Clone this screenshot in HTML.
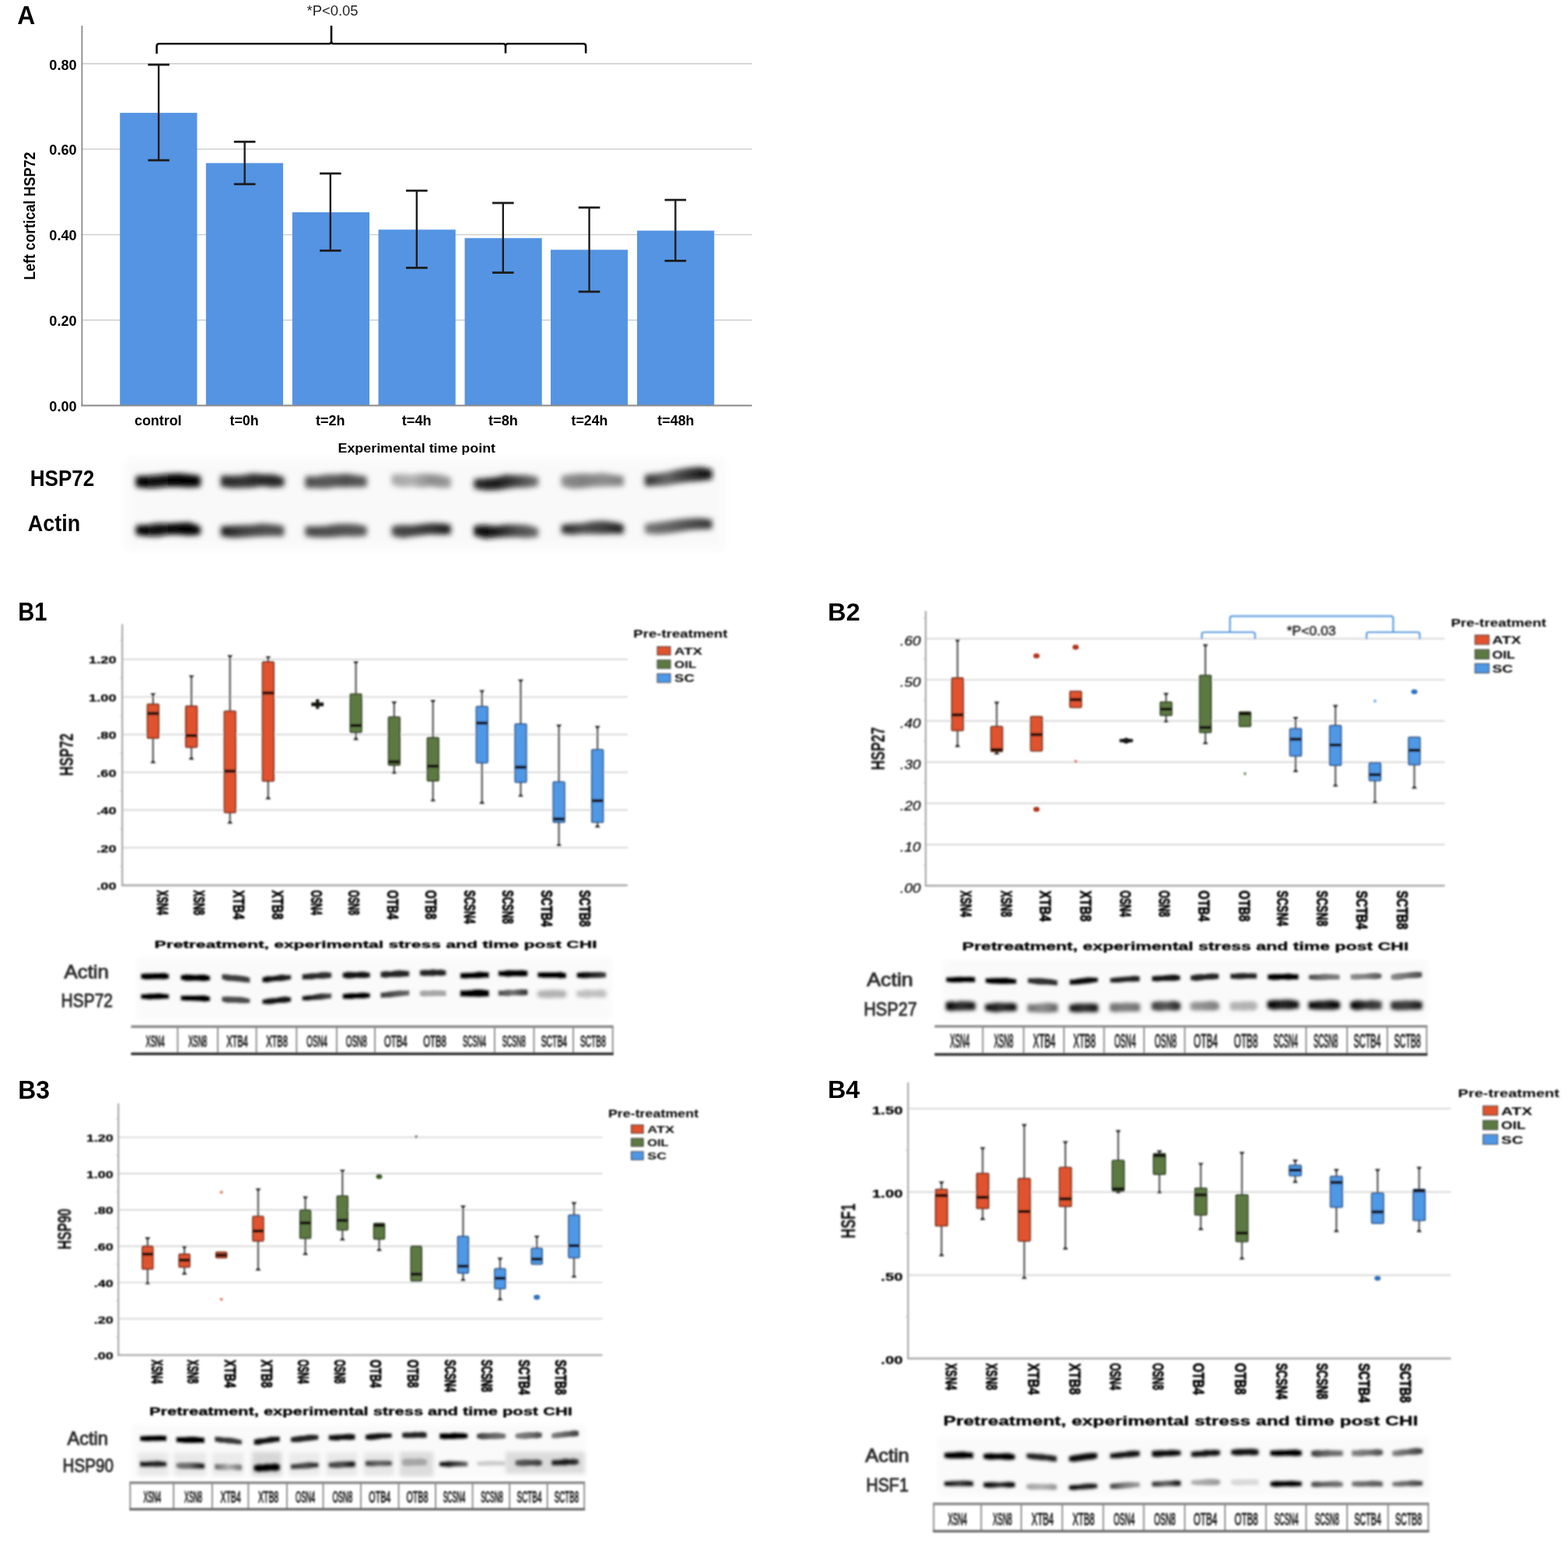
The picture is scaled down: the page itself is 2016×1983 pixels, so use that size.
<!DOCTYPE html>
<html><head><meta charset="utf-8"><title>HSP figure</title><style>html,body{margin:0;padding:0;background:#fff;}svg{display:block;}body{width:2016px;height:1983px;overflow:hidden;}</style></head><body>
<svg width="2016" height="1983" viewBox="0 0 2016 1983" font-family='"Liberation Sans", Arial, sans-serif'><defs><filter id="bl0_35" x="-30%" y="-100%" width="160%" height="300%"><feGaussianBlur stdDeviation="0.35"/></filter><filter id="bl0_85" x="-30%" y="-100%" width="160%" height="300%"><feGaussianBlur stdDeviation="0.85"/></filter><filter id="bl1_3" x="-30%" y="-100%" width="160%" height="300%"><feGaussianBlur stdDeviation="1.3"/></filter><filter id="bl1_4" x="-30%" y="-100%" width="160%" height="300%"><feGaussianBlur stdDeviation="1.4"/></filter><filter id="bl1_5" x="-30%" y="-100%" width="160%" height="300%"><feGaussianBlur stdDeviation="1.5"/></filter><filter id="bl1_6" x="-30%" y="-100%" width="160%" height="300%"><feGaussianBlur stdDeviation="1.6"/></filter><filter id="bl2_2" x="-30%" y="-100%" width="160%" height="300%"><feGaussianBlur stdDeviation="2.2"/></filter><filter id="bl2_5" x="-30%" y="-100%" width="160%" height="300%"><feGaussianBlur stdDeviation="2.5"/></filter><filter id="bl3" x="-30%" y="-100%" width="160%" height="300%"><feGaussianBlur stdDeviation="3"/></filter><filter id="bl3_5" x="-30%" y="-100%" width="160%" height="300%"><feGaussianBlur stdDeviation="3.5"/></filter><filter id="bl6" x="-30%" y="-100%" width="160%" height="300%"><feGaussianBlur stdDeviation="6"/></filter><linearGradient id="g0" gradientUnits="userSpaceOnUse" x1="176.5" y1="0" x2="256" y2="0"><stop offset="0" stop-color="rgb(0,0,0)"/><stop offset="0.33" stop-color="rgb(13,13,13)"/><stop offset="0.67" stop-color="rgb(0,0,0)"/><stop offset="1" stop-color="rgb(0,0,0)"/></linearGradient><linearGradient id="g1" gradientUnits="userSpaceOnUse" x1="176.5" y1="0" x2="256" y2="0"><stop offset="0" stop-color="rgb(0,0,0)"/><stop offset="0.33" stop-color="rgb(13,13,13)"/><stop offset="0.67" stop-color="rgb(0,0,0)"/><stop offset="1" stop-color="rgb(0,0,0)"/></linearGradient><linearGradient id="g2" gradientUnits="userSpaceOnUse" x1="285.8" y1="0" x2="363.4" y2="0"><stop offset="0" stop-color="rgb(38,38,38)"/><stop offset="0.33" stop-color="rgb(51,51,51)"/><stop offset="0.67" stop-color="rgb(38,38,38)"/><stop offset="1" stop-color="rgb(38,38,38)"/></linearGradient><linearGradient id="g3" gradientUnits="userSpaceOnUse" x1="285.8" y1="0" x2="363.4" y2="0"><stop offset="0" stop-color="rgb(25,25,25)"/><stop offset="0.33" stop-color="rgb(64,64,64)"/><stop offset="0.67" stop-color="rgb(77,77,77)"/><stop offset="1" stop-color="rgb(77,77,77)"/></linearGradient><linearGradient id="g4" gradientUnits="userSpaceOnUse" x1="394.2" y1="0" x2="469.8" y2="0"><stop offset="0" stop-color="rgb(77,77,77)"/><stop offset="0.33" stop-color="rgb(89,89,89)"/><stop offset="0.67" stop-color="rgb(77,77,77)"/><stop offset="1" stop-color="rgb(89,89,89)"/></linearGradient><linearGradient id="g5" gradientUnits="userSpaceOnUse" x1="394.2" y1="0" x2="469.8" y2="0"><stop offset="0" stop-color="rgb(71,71,71)"/><stop offset="0.33" stop-color="rgb(77,77,77)"/><stop offset="0.67" stop-color="rgb(82,82,82)"/><stop offset="1" stop-color="rgb(87,87,87)"/></linearGradient><linearGradient id="g6" gradientUnits="userSpaceOnUse" x1="505.5" y1="0" x2="577.9" y2="0"><stop offset="0" stop-color="rgb(166,166,166)"/><stop offset="0.33" stop-color="rgb(178,178,178)"/><stop offset="0.67" stop-color="rgb(140,140,140)"/><stop offset="1" stop-color="rgb(153,153,153)"/></linearGradient><linearGradient id="g7" gradientUnits="userSpaceOnUse" x1="505.5" y1="0" x2="577.9" y2="0"><stop offset="0" stop-color="rgb(71,71,71)"/><stop offset="0.33" stop-color="rgb(64,64,64)"/><stop offset="0.67" stop-color="rgb(51,51,51)"/><stop offset="1" stop-color="rgb(25,25,25)"/></linearGradient><linearGradient id="g8" gradientUnits="userSpaceOnUse" x1="611.3" y1="0" x2="690.3" y2="0"><stop offset="0" stop-color="rgb(38,38,38)"/><stop offset="0.33" stop-color="rgb(25,25,25)"/><stop offset="0.67" stop-color="rgb(64,64,64)"/><stop offset="1" stop-color="rgb(115,115,115)"/></linearGradient><linearGradient id="g9" gradientUnits="userSpaceOnUse" x1="611.3" y1="0" x2="690.3" y2="0"><stop offset="0" stop-color="rgb(5,5,5)"/><stop offset="0.33" stop-color="rgb(25,25,25)"/><stop offset="0.67" stop-color="rgb(77,77,77)"/><stop offset="1" stop-color="rgb(102,102,102)"/></linearGradient><linearGradient id="g10" gradientUnits="userSpaceOnUse" x1="723.7" y1="0" x2="800" y2="0"><stop offset="0" stop-color="rgb(140,140,140)"/><stop offset="0.33" stop-color="rgb(128,128,128)"/><stop offset="0.67" stop-color="rgb(140,140,140)"/><stop offset="1" stop-color="rgb(128,128,128)"/></linearGradient><linearGradient id="g11" gradientUnits="userSpaceOnUse" x1="723.7" y1="0" x2="800" y2="0"><stop offset="0" stop-color="rgb(38,38,38)"/><stop offset="0.33" stop-color="rgb(77,77,77)"/><stop offset="0.67" stop-color="rgb(64,64,64)"/><stop offset="1" stop-color="rgb(25,25,25)"/></linearGradient><linearGradient id="g12" gradientUnits="userSpaceOnUse" x1="830.9" y1="0" x2="913.7" y2="0"><stop offset="0" stop-color="rgb(51,51,51)"/><stop offset="0.33" stop-color="rgb(102,102,102)"/><stop offset="0.67" stop-color="rgb(51,51,51)"/><stop offset="1" stop-color="rgb(13,13,13)"/></linearGradient><linearGradient id="g13" gradientUnits="userSpaceOnUse" x1="830.9" y1="0" x2="913.7" y2="0"><stop offset="0" stop-color="rgb(115,115,115)"/><stop offset="0.33" stop-color="rgb(102,102,102)"/><stop offset="0.67" stop-color="rgb(77,77,77)"/><stop offset="1" stop-color="rgb(51,51,51)"/></linearGradient><linearGradient id="g14" gradientUnits="userSpaceOnUse" x1="338" y1="0" x2="373.5" y2="0"><stop offset="0" stop-color="rgb(13,13,13)"/><stop offset="1" stop-color="rgb(38,38,38)"/></linearGradient><linearGradient id="g15" gradientUnits="userSpaceOnUse" x1="389.3" y1="0" x2="425.5" y2="0"><stop offset="0" stop-color="rgb(38,38,38)"/><stop offset="1" stop-color="rgb(51,51,51)"/></linearGradient><linearGradient id="g16" gradientUnits="userSpaceOnUse" x1="742.3" y1="0" x2="778.5" y2="0"><stop offset="0" stop-color="rgb(0,0,0)"/><stop offset="1" stop-color="rgb(64,64,64)"/></linearGradient><linearGradient id="g17" gradientUnits="userSpaceOnUse" x1="389.3" y1="0" x2="425.5" y2="0"><stop offset="0" stop-color="rgb(13,13,13)"/><stop offset="1" stop-color="rgb(77,77,77)"/></linearGradient><linearGradient id="g18" gradientUnits="userSpaceOnUse" x1="490.1" y1="0" x2="525.5" y2="0"><stop offset="0" stop-color="rgb(64,64,64)"/><stop offset="1" stop-color="rgb(102,102,102)"/></linearGradient><linearGradient id="g19" gradientUnits="userSpaceOnUse" x1="641.5" y1="0" x2="677.7" y2="0"><stop offset="0" stop-color="rgb(77,77,77)"/><stop offset="0.5" stop-color="rgb(115,115,115)"/><stop offset="1" stop-color="rgb(51,51,51)"/></linearGradient><linearGradient id="g20" gradientUnits="userSpaceOnUse" x1="1683.5" y1="0" x2="1721.8" y2="0"><stop offset="0" stop-color="rgb(77,77,77)"/><stop offset="0.5" stop-color="rgb(115,115,115)"/><stop offset="1" stop-color="rgb(128,128,128)"/></linearGradient><linearGradient id="g21" gradientUnits="userSpaceOnUse" x1="1737.2" y1="0" x2="1775.5" y2="0"><stop offset="0" stop-color="rgb(140,140,140)"/><stop offset="0.5" stop-color="rgb(128,128,128)"/><stop offset="1" stop-color="rgb(89,89,89)"/></linearGradient><linearGradient id="g22" gradientUnits="userSpaceOnUse" x1="1789.2" y1="0" x2="1827.5" y2="0"><stop offset="0" stop-color="rgb(140,140,140)"/><stop offset="0.5" stop-color="rgb(115,115,115)"/><stop offset="1" stop-color="rgb(77,77,77)"/></linearGradient><linearGradient id="g23" gradientUnits="userSpaceOnUse" x1="1217.2" y1="0" x2="1253.1" y2="0"><stop offset="0" stop-color="rgb(0,0,0)"/><stop offset="0.5" stop-color="rgb(51,51,51)"/><stop offset="1" stop-color="rgb(25,25,25)"/></linearGradient><linearGradient id="g24" gradientUnits="userSpaceOnUse" x1="1267.7" y1="0" x2="1306" y2="0"><stop offset="0" stop-color="rgb(13,13,13)"/><stop offset="0.5" stop-color="rgb(51,51,51)"/><stop offset="1" stop-color="rgb(13,13,13)"/></linearGradient><linearGradient id="g25" gradientUnits="userSpaceOnUse" x1="1322.2" y1="0" x2="1358.9" y2="0"><stop offset="0" stop-color="rgb(115,115,115)"/><stop offset="0.5" stop-color="rgb(140,140,140)"/><stop offset="1" stop-color="rgb(102,102,102)"/></linearGradient><linearGradient id="g26" gradientUnits="userSpaceOnUse" x1="1375.9" y1="0" x2="1410.9" y2="0"><stop offset="0" stop-color="rgb(25,25,25)"/><stop offset="0.5" stop-color="rgb(51,51,51)"/><stop offset="1" stop-color="rgb(25,25,25)"/></linearGradient><linearGradient id="g27" gradientUnits="userSpaceOnUse" x1="1428" y1="0" x2="1464.7" y2="0"><stop offset="0" stop-color="rgb(115,115,115)"/><stop offset="0.5" stop-color="rgb(128,128,128)"/><stop offset="1" stop-color="rgb(115,115,115)"/></linearGradient><linearGradient id="g28" gradientUnits="userSpaceOnUse" x1="1481.7" y1="0" x2="1516.7" y2="0"><stop offset="0" stop-color="rgb(64,64,64)"/><stop offset="0.5" stop-color="rgb(89,89,89)"/><stop offset="1" stop-color="rgb(38,38,38)"/></linearGradient><linearGradient id="g29" gradientUnits="userSpaceOnUse" x1="1531.4" y1="0" x2="1566.4" y2="0"><stop offset="0" stop-color="rgb(153,153,153)"/><stop offset="0.5" stop-color="rgb(140,140,140)"/><stop offset="1" stop-color="rgb(128,128,128)"/></linearGradient><linearGradient id="g30" gradientUnits="userSpaceOnUse" x1="1630.5" y1="0" x2="1668.9" y2="0"><stop offset="0" stop-color="rgb(0,0,0)"/><stop offset="0.5" stop-color="rgb(38,38,38)"/><stop offset="1" stop-color="rgb(13,13,13)"/></linearGradient><linearGradient id="g31" gradientUnits="userSpaceOnUse" x1="1683.5" y1="0" x2="1721.8" y2="0"><stop offset="0" stop-color="rgb(0,0,0)"/><stop offset="0.5" stop-color="rgb(38,38,38)"/><stop offset="1" stop-color="rgb(0,0,0)"/></linearGradient><linearGradient id="g32" gradientUnits="userSpaceOnUse" x1="1737.2" y1="0" x2="1775.5" y2="0"><stop offset="0" stop-color="rgb(0,0,0)"/><stop offset="0.5" stop-color="rgb(51,51,51)"/><stop offset="1" stop-color="rgb(64,64,64)"/></linearGradient><linearGradient id="g33" gradientUnits="userSpaceOnUse" x1="1789.2" y1="0" x2="1827.5" y2="0"><stop offset="0" stop-color="rgb(51,51,51)"/><stop offset="0.5" stop-color="rgb(64,64,64)"/><stop offset="1" stop-color="rgb(25,25,25)"/></linearGradient><linearGradient id="g34" gradientUnits="userSpaceOnUse" x1="276.9" y1="0" x2="310.3" y2="0"><stop offset="0" stop-color="rgb(51,51,51)"/><stop offset="1" stop-color="rgb(64,64,64)"/></linearGradient><linearGradient id="g35" gradientUnits="userSpaceOnUse" x1="613.8" y1="0" x2="649.5" y2="0"><stop offset="0" stop-color="rgb(64,64,64)"/><stop offset="0.5" stop-color="rgb(102,102,102)"/><stop offset="1" stop-color="rgb(115,115,115)"/></linearGradient><linearGradient id="g36" gradientUnits="userSpaceOnUse" x1="663.4" y1="0" x2="696" y2="0"><stop offset="0" stop-color="rgb(128,128,128)"/><stop offset="0.5" stop-color="rgb(115,115,115)"/><stop offset="1" stop-color="rgb(77,77,77)"/></linearGradient><linearGradient id="g37" gradientUnits="userSpaceOnUse" x1="709.9" y1="0" x2="743.3" y2="0"><stop offset="0" stop-color="rgb(128,128,128)"/><stop offset="0.5" stop-color="rgb(102,102,102)"/><stop offset="1" stop-color="rgb(64,64,64)"/></linearGradient><linearGradient id="g38" gradientUnits="userSpaceOnUse" x1="180.8" y1="0" x2="213.4" y2="0"><stop offset="0" stop-color="rgb(13,13,13)"/><stop offset="0.5" stop-color="rgb(38,38,38)"/><stop offset="1" stop-color="rgb(25,25,25)"/></linearGradient><linearGradient id="g39" gradientUnits="userSpaceOnUse" x1="227.3" y1="0" x2="262.3" y2="0"><stop offset="0" stop-color="rgb(115,115,115)"/><stop offset="0.5" stop-color="rgb(102,102,102)"/><stop offset="1" stop-color="rgb(13,13,13)"/></linearGradient><linearGradient id="g40" gradientUnits="userSpaceOnUse" x1="276.9" y1="0" x2="310.3" y2="0"><stop offset="0" stop-color="rgb(102,102,102)"/><stop offset="0.5" stop-color="rgb(178,178,178)"/><stop offset="1" stop-color="rgb(115,115,115)"/></linearGradient><linearGradient id="g41" gradientUnits="userSpaceOnUse" x1="374.5" y1="0" x2="408.7" y2="0"><stop offset="0" stop-color="rgb(51,51,51)"/><stop offset="0.5" stop-color="rgb(77,77,77)"/><stop offset="1" stop-color="rgb(38,38,38)"/></linearGradient><linearGradient id="g42" gradientUnits="userSpaceOnUse" x1="423.3" y1="0" x2="456" y2="0"><stop offset="0" stop-color="rgb(64,64,64)"/><stop offset="0.5" stop-color="rgb(77,77,77)"/><stop offset="1" stop-color="rgb(13,13,13)"/></linearGradient><linearGradient id="g43" gradientUnits="userSpaceOnUse" x1="470.5" y1="0" x2="503.1" y2="0"><stop offset="0" stop-color="rgb(64,64,64)"/><stop offset="0.5" stop-color="rgb(102,102,102)"/><stop offset="1" stop-color="rgb(77,77,77)"/></linearGradient><linearGradient id="g44" gradientUnits="userSpaceOnUse" x1="565.8" y1="0" x2="600.7" y2="0"><stop offset="0" stop-color="rgb(0,0,0)"/><stop offset="0.5" stop-color="rgb(51,51,51)"/><stop offset="1" stop-color="rgb(102,102,102)"/></linearGradient><linearGradient id="g45" gradientUnits="userSpaceOnUse" x1="663.4" y1="0" x2="696" y2="0"><stop offset="0" stop-color="rgb(89,89,89)"/><stop offset="0.5" stop-color="rgb(77,77,77)"/><stop offset="1" stop-color="rgb(64,64,64)"/></linearGradient><linearGradient id="g46" gradientUnits="userSpaceOnUse" x1="709.9" y1="0" x2="743.3" y2="0"><stop offset="0" stop-color="rgb(38,38,38)"/><stop offset="0.5" stop-color="rgb(25,25,25)"/><stop offset="1" stop-color="rgb(51,51,51)"/></linearGradient><linearGradient id="g47" gradientUnits="userSpaceOnUse" x1="1686.7" y1="0" x2="1725.9" y2="0"><stop offset="0" stop-color="rgb(64,64,64)"/><stop offset="0.5" stop-color="rgb(102,102,102)"/><stop offset="1" stop-color="rgb(115,115,115)"/></linearGradient><linearGradient id="g48" gradientUnits="userSpaceOnUse" x1="1738.8" y1="0" x2="1777.1" y2="0"><stop offset="0" stop-color="rgb(128,128,128)"/><stop offset="0.5" stop-color="rgb(115,115,115)"/><stop offset="1" stop-color="rgb(77,77,77)"/></linearGradient><linearGradient id="g49" gradientUnits="userSpaceOnUse" x1="1790.9" y1="0" x2="1828.4" y2="0"><stop offset="0" stop-color="rgb(128,128,128)"/><stop offset="0.5" stop-color="rgb(102,102,102)"/><stop offset="1" stop-color="rgb(64,64,64)"/></linearGradient><linearGradient id="g50" gradientUnits="userSpaceOnUse" x1="1214.8" y1="0" x2="1250.6" y2="0"><stop offset="0" stop-color="rgb(0,0,0)"/><stop offset="0.5" stop-color="rgb(64,64,64)"/><stop offset="1" stop-color="rgb(13,13,13)"/></linearGradient><linearGradient id="g51" gradientUnits="userSpaceOnUse" x1="1265.2" y1="0" x2="1304.3" y2="0"><stop offset="0" stop-color="rgb(0,0,0)"/><stop offset="0.5" stop-color="rgb(51,51,51)"/><stop offset="1" stop-color="rgb(0,0,0)"/></linearGradient><linearGradient id="g52" gradientUnits="userSpaceOnUse" x1="1320.5" y1="0" x2="1358" y2="0"><stop offset="0" stop-color="rgb(166,166,166)"/><stop offset="0.5" stop-color="rgb(178,178,178)"/><stop offset="1" stop-color="rgb(153,153,153)"/></linearGradient><linearGradient id="g53" gradientUnits="userSpaceOnUse" x1="1375.1" y1="0" x2="1410.1" y2="0"><stop offset="0" stop-color="rgb(0,0,0)"/><stop offset="0.5" stop-color="rgb(38,38,38)"/><stop offset="1" stop-color="rgb(25,25,25)"/></linearGradient><linearGradient id="g54" gradientUnits="userSpaceOnUse" x1="1428" y1="0" x2="1464.7" y2="0"><stop offset="0" stop-color="rgb(64,64,64)"/><stop offset="0.5" stop-color="rgb(128,128,128)"/><stop offset="1" stop-color="rgb(153,153,153)"/></linearGradient><linearGradient id="g55" gradientUnits="userSpaceOnUse" x1="1481.7" y1="0" x2="1517.5" y2="0"><stop offset="0" stop-color="rgb(51,51,51)"/><stop offset="0.5" stop-color="rgb(102,102,102)"/><stop offset="1" stop-color="rgb(13,13,13)"/></linearGradient><linearGradient id="g56" gradientUnits="userSpaceOnUse" x1="1532.2" y1="0" x2="1568" y2="0"><stop offset="0" stop-color="rgb(178,178,178)"/><stop offset="0.5" stop-color="rgb(166,166,166)"/><stop offset="1" stop-color="rgb(153,153,153)"/></linearGradient><linearGradient id="g57" gradientUnits="userSpaceOnUse" x1="1686.7" y1="0" x2="1725.9" y2="0"><stop offset="0" stop-color="rgb(77,77,77)"/><stop offset="0.5" stop-color="rgb(102,102,102)"/><stop offset="1" stop-color="rgb(115,115,115)"/></linearGradient><linearGradient id="g58" gradientUnits="userSpaceOnUse" x1="1738.8" y1="0" x2="1777.1" y2="0"><stop offset="0" stop-color="rgb(115,115,115)"/><stop offset="0.5" stop-color="rgb(102,102,102)"/><stop offset="1" stop-color="rgb(89,89,89)"/></linearGradient><linearGradient id="g59" gradientUnits="userSpaceOnUse" x1="1790.9" y1="0" x2="1828.4" y2="0"><stop offset="0" stop-color="rgb(115,115,115)"/><stop offset="0.5" stop-color="rgb(102,102,102)"/><stop offset="1" stop-color="rgb(64,64,64)"/></linearGradient></defs><rect width="100%" height="100%" fill="#fff"/><g id="panelA" filter="url(#bl0_35)">
<text x="22.3" y="30.8" font-size="33.28" font-weight="bold" fill="#000" textLength="23" lengthAdjust="spacingAndGlyphs">A</text>
<line x1="106" y1="411.6" x2="966.8" y2="411.6" stroke="#d2d2d2" stroke-width="1.6"/>
<line x1="106" y1="301.7" x2="966.8" y2="301.7" stroke="#d2d2d2" stroke-width="1.6"/>
<line x1="106" y1="191.8" x2="966.8" y2="191.8" stroke="#d2d2d2" stroke-width="1.6"/>
<line x1="106" y1="81.9" x2="966.8" y2="81.9" stroke="#d2d2d2" stroke-width="1.6"/>
<rect x="154.2" y="145.1" width="99.2" height="376.4" fill="#5594e3"/>
<rect x="264.8" y="209.7" width="99.2" height="311.8" fill="#5594e3"/>
<rect x="375.8" y="273" width="99.2" height="248.5" fill="#5594e3"/>
<rect x="486.5" y="295.3" width="99.2" height="226.2" fill="#5594e3"/>
<rect x="597.5" y="306.2" width="99.2" height="215.3" fill="#5594e3"/>
<rect x="708" y="321.2" width="99.2" height="200.3" fill="#5594e3"/>
<rect x="819.1" y="296.6" width="99.2" height="224.9" fill="#5594e3"/>
<line x1="105.4" y1="33" x2="105.4" y2="522.3" stroke="#8a8a8a" stroke-width="1.8"/>
<line x1="104.5" y1="521.5" x2="966.8" y2="521.5" stroke="#8a8a8a" stroke-width="1.8"/>
<line x1="204" y1="83.2" x2="204" y2="206.1" stroke="#1e1e1e" stroke-width="2.4"/>
<line x1="190.2" y1="83.2" x2="217.8" y2="83.2" stroke="#1e1e1e" stroke-width="2.8"/>
<line x1="190.2" y1="206.1" x2="217.8" y2="206.1" stroke="#1e1e1e" stroke-width="2.8"/>
<line x1="314.6" y1="182.3" x2="314.6" y2="236.8" stroke="#1e1e1e" stroke-width="2.4"/>
<line x1="300.8" y1="182.3" x2="328.4" y2="182.3" stroke="#1e1e1e" stroke-width="2.8"/>
<line x1="300.8" y1="236.8" x2="328.4" y2="236.8" stroke="#1e1e1e" stroke-width="2.8"/>
<line x1="424.8" y1="223.1" x2="424.8" y2="322.3" stroke="#1e1e1e" stroke-width="2.4"/>
<line x1="411" y1="223.1" x2="438.6" y2="223.1" stroke="#1e1e1e" stroke-width="2.8"/>
<line x1="411" y1="322.3" x2="438.6" y2="322.3" stroke="#1e1e1e" stroke-width="2.8"/>
<line x1="535.8" y1="245.2" x2="535.8" y2="344.4" stroke="#1e1e1e" stroke-width="2.4"/>
<line x1="522" y1="245.2" x2="549.6" y2="245.2" stroke="#1e1e1e" stroke-width="2.8"/>
<line x1="522" y1="344.4" x2="549.6" y2="344.4" stroke="#1e1e1e" stroke-width="2.8"/>
<line x1="646.8" y1="261" x2="646.8" y2="350.6" stroke="#1e1e1e" stroke-width="2.4"/>
<line x1="633" y1="261" x2="660.6" y2="261" stroke="#1e1e1e" stroke-width="2.8"/>
<line x1="633" y1="350.6" x2="660.6" y2="350.6" stroke="#1e1e1e" stroke-width="2.8"/>
<line x1="757.6" y1="266.9" x2="757.6" y2="375.1" stroke="#1e1e1e" stroke-width="2.4"/>
<line x1="743.8" y1="266.9" x2="771.4" y2="266.9" stroke="#1e1e1e" stroke-width="2.8"/>
<line x1="743.8" y1="375.1" x2="771.4" y2="375.1" stroke="#1e1e1e" stroke-width="2.8"/>
<line x1="868.4" y1="257.1" x2="868.4" y2="335.4" stroke="#1e1e1e" stroke-width="2.4"/>
<line x1="854.6" y1="257.1" x2="882.2" y2="257.1" stroke="#1e1e1e" stroke-width="2.8"/>
<line x1="854.6" y1="335.4" x2="882.2" y2="335.4" stroke="#1e1e1e" stroke-width="2.8"/>
<text x="63.3" y="529.1" font-size="18.75" font-weight="bold" fill="#000" textLength="35.3" lengthAdjust="spacingAndGlyphs">0.00</text>
<text x="63.3" y="419.2" font-size="18.75" font-weight="bold" fill="#000" textLength="35.3" lengthAdjust="spacingAndGlyphs">0.20</text>
<text x="63.3" y="309.3" font-size="18.75" font-weight="bold" fill="#000" textLength="35.3" lengthAdjust="spacingAndGlyphs">0.40</text>
<text x="63.3" y="199.4" font-size="18.75" font-weight="bold" fill="#000" textLength="35.3" lengthAdjust="spacingAndGlyphs">0.60</text>
<text x="63.3" y="89.5" font-size="18.75" font-weight="bold" fill="#000" textLength="35.3" lengthAdjust="spacingAndGlyphs">0.80</text>
<text x="173" y="547.2" font-size="17.73" font-weight="bold" fill="#000" textLength="60.5" lengthAdjust="spacingAndGlyphs">control</text>
<text x="295.5" y="547.2" font-size="17.73" font-weight="bold" fill="#000" textLength="37" lengthAdjust="spacingAndGlyphs">t=0h</text>
<text x="406" y="547.2" font-size="17.73" font-weight="bold" fill="#000" textLength="37.5" lengthAdjust="spacingAndGlyphs">t=2h</text>
<text x="516.8" y="547.2" font-size="17.73" font-weight="bold" fill="#000" textLength="37.8" lengthAdjust="spacingAndGlyphs">t=4h</text>
<text x="628" y="547.2" font-size="17.73" font-weight="bold" fill="#000" textLength="37.8" lengthAdjust="spacingAndGlyphs">t=8h</text>
<text x="734.5" y="547.2" font-size="17.73" font-weight="bold" fill="#000" textLength="47" lengthAdjust="spacingAndGlyphs">t=24h</text>
<text x="845.3" y="547.2" font-size="17.73" font-weight="bold" fill="#000" textLength="47.2" lengthAdjust="spacingAndGlyphs">t=48h</text>
<text x="434.5" y="582" font-size="17.01" font-weight="bold" fill="#000" textLength="202.5" lengthAdjust="spacingAndGlyphs">Experimental time point</text>
<text transform="translate(44.8 360) rotate(-90) scale(1 1)" x="0" y="0" font-size="19.77" font-weight="bold" fill="#000" textLength="164.6" lengthAdjust="spacingAndGlyphs">Left cortical HSP72</text>
<path d="M201.5 69 L201.5 59.5 Q201.5 56.3 204.7 56.3 L423 56.3 Q426 56.3 426 53 L426 33 M426 53 Q426 56.3 429 56.3 L647 56.3 Q650 56.3 650 59.5 L650 68.5 M650 59.5 Q650 56.3 653 56.3 L750 56.3 Q753.2 56.3 753.2 59.5 L753.2 68.5" fill="none" stroke="#111" stroke-width="2.6"/>
<text x="394.5" y="19.6" font-size="17.59" font-weight="normal" fill="#222" textLength="66" lengthAdjust="spacingAndGlyphs">*P&lt;0.05</text>
<rect x="161" y="590" width="770" height="117" fill="#f9f9f9" filter="url(#bl6)"/>
<text x="38.7" y="625.2" font-size="28.63" font-weight="bold" fill="#000" textLength="82.7" lengthAdjust="spacingAndGlyphs">HSP72</text>
<text x="35.8" y="682.5" font-size="29.07" font-weight="bold" fill="#000" textLength="67.5" lengthAdjust="spacingAndGlyphs">Actin</text>
<path d="M176.5 614.14 L189.75 613.66 L203 612.8 L216.25 611.54 L229.5 610.64 L242.75 611.82 L256 613.58 L256 624.08 L242.75 624.84 L229.5 623.96 L216.25 623.77 L203 625.43 L189.75 625.72 L176.5 624.65 Z" fill="url(#g0)" stroke="url(#g0)" stroke-width="3.9" stroke-linejoin="round" filter="url(#bl3_5)"/>
<path d="M176.5 677.34 L189.75 676.83 L203 674.8 L216.25 674.98 L229.5 674.21 L242.75 673.43 L256 678.22 L256 685.99 L242.75 687.06 L229.5 685.59 L216.25 685.76 L203 687.96 L189.75 687.77 L176.5 686.15 Z" fill="url(#g1)" stroke="url(#g1)" stroke-width="3.6" stroke-linejoin="round" filter="url(#bl3_5)"/>
<path d="M285.8 613.38 L298.73 613.74 L311.67 612.83 L324.6 610.81 L337.53 611.93 L350.47 611.98 L363.4 615.28 L363.4 623.58 L350.47 624.72 L337.53 623.09 L324.6 624.94 L311.67 625.63 L298.73 625.79 L285.8 624.14 Z" fill="url(#g2)" stroke="url(#g2)" stroke-width="3.9" stroke-linejoin="round" filter="url(#bl3_5)"/>
<path d="M285.8 678.64 L298.73 677.87 L311.67 677.16 L324.6 676.46 L337.53 674.98 L350.47 676.08 L363.4 677.89 L363.4 687.73 L350.47 687.37 L337.53 688.03 L324.6 688.5 L311.67 689.47 L298.73 689.74 L285.8 687.81 Z" fill="url(#g3)" stroke="url(#g3)" stroke-width="3.6" stroke-linejoin="round" filter="url(#bl3_5)"/>
<path d="M394.2 614.45 L406.8 614.38 L419.4 612.29 L432 612.13 L444.6 611.1 L457.2 612.63 L469.8 614.78 L469.8 624.22 L457.2 624.29 L444.6 624.51 L432 624.38 L419.4 626.21 L406.8 625.76 L394.2 625.51 Z" fill="url(#g4)" stroke="url(#g4)" stroke-width="3.9" stroke-linejoin="round" filter="url(#bl3_5)"/>
<path d="M394.2 678.44 L406.8 678.43 L419.4 677.86 L432 675.72 L444.6 675.23 L457.2 675.75 L469.8 678.35 L469.8 687.19 L457.2 688.33 L444.6 687.6 L432 688.83 L419.4 689.41 L406.8 689.14 L394.2 687.86 Z" fill="url(#g5)" stroke="url(#g5)" stroke-width="3.6" stroke-linejoin="round" filter="url(#bl3_5)"/>
<path d="M505.5 611.84 L517.57 611.48 L529.63 612.34 L541.7 610.83 L553.77 611.36 L565.83 612.5 L577.9 615.55 L577.9 625.23 L565.83 625.38 L553.77 623.32 L541.7 625.14 L529.63 623.64 L517.57 624.89 L505.5 621.72 Z" fill="url(#g6)" stroke="url(#g6)" stroke-width="3.9" stroke-linejoin="round" filter="url(#bl3_5)"/>
<path d="M505.5 678.06 L517.57 676.72 L529.63 677.23 L541.7 675.82 L553.77 674.66 L565.83 674.76 L577.9 676.44 L577.9 685.26 L565.83 685.73 L553.77 685.33 L541.7 686.83 L529.63 688.26 L517.57 689.98 L505.5 687.56 Z" fill="url(#g7)" stroke="url(#g7)" stroke-width="3.6" stroke-linejoin="round" filter="url(#bl3_5)"/>
<path d="M611.3 617.99 L624.47 616.86 L637.63 615.69 L650.8 612.46 L663.97 612.88 L677.13 612.85 L690.3 614.91 L690.3 623.51 L677.13 624.98 L663.97 624.79 L650.8 626.63 L637.63 628.31 L624.47 628.52 L611.3 626.58 Z" fill="url(#g8)" stroke="url(#g8)" stroke-width="3.9" stroke-linejoin="round" filter="url(#bl3_5)"/>
<path d="M611.3 677.75 L624.47 677.13 L637.63 678.35 L650.8 676.31 L663.97 676.23 L677.13 676.84 L690.3 680.42 L690.3 688.67 L677.13 689.84 L663.97 688.89 L650.8 688.88 L637.63 689.47 L624.47 690.72 L611.3 687.3 Z" fill="url(#g9)" stroke="url(#g9)" stroke-width="3.6" stroke-linejoin="round" filter="url(#bl3_5)"/>
<path d="M723.7 613.47 L736.42 611.79 L749.13 611.04 L761.85 611.53 L774.57 610.11 L787.28 612.08 L800 614.04 L800 623.05 L787.28 623.57 L774.57 623.69 L761.85 624.4 L749.13 625.69 L736.42 626.52 L723.7 623.93 Z" fill="url(#g10)" stroke="url(#g10)" stroke-width="3.9" stroke-linejoin="round" filter="url(#bl3_5)"/>
<path d="M723.7 676.65 L736.42 675.29 L749.13 674.44 L761.85 672.25 L774.57 671.47 L787.28 672.92 L800 676.08 L800 684.48 L787.28 684.34 L774.57 685.27 L761.85 684.9 L749.13 684.7 L736.42 686.06 L723.7 684.33 Z" fill="url(#g11)" stroke="url(#g11)" stroke-width="3.6" stroke-linejoin="round" filter="url(#bl3_5)"/>
<path d="M830.9 612.51 L844.7 610.83 L858.5 608.55 L872.3 605.45 L886.1 603.45 L899.9 602.41 L913.7 605.05 L913.7 614.55 L899.9 616.58 L886.1 617.51 L872.3 619.46 L858.5 622.19 L844.7 622.9 L830.9 623.2 Z" fill="url(#g12)" stroke="url(#g12)" stroke-width="3.9" stroke-linejoin="round" filter="url(#bl3_5)"/>
<path d="M830.9 675.25 L844.7 673.59 L858.5 671.73 L872.3 669.75 L886.1 668.61 L899.9 668.16 L913.7 669.87 L913.7 678.36 L899.9 678.87 L886.1 679.9 L872.3 682.24 L858.5 684.3 L844.7 685.4 L830.9 684.2 Z" fill="url(#g13)" stroke="url(#g13)" stroke-width="3.6" stroke-linejoin="round" filter="url(#bl3_5)"/>
</g>
<text x="23.3" y="797.8" font-size="32.85" font-weight="bold" fill="#000" textLength="37.2" lengthAdjust="spacingAndGlyphs">B1</text>
<g id="B1" filter="url(#bl0_85)">
<line x1="158.2" y1="1090.05" x2="807" y2="1090.05" stroke="#dcdcdc" stroke-width="2.2"/>
<line x1="158.2" y1="1041.6" x2="807" y2="1041.6" stroke="#dcdcdc" stroke-width="2.2"/>
<line x1="158.2" y1="993.15" x2="807" y2="993.15" stroke="#dcdcdc" stroke-width="2.2"/>
<line x1="158.2" y1="944.7" x2="807" y2="944.7" stroke="#dcdcdc" stroke-width="2.2"/>
<line x1="158.2" y1="896.25" x2="807" y2="896.25" stroke="#dcdcdc" stroke-width="2.2"/>
<line x1="158.2" y1="847.8" x2="807" y2="847.8" stroke="#dcdcdc" stroke-width="2.2"/>
<line x1="154.2" y1="1114.28" x2="157.2" y2="1114.28" stroke="#c8c8c8" stroke-width="1.2"/>
<line x1="154.2" y1="1065.83" x2="157.2" y2="1065.83" stroke="#c8c8c8" stroke-width="1.2"/>
<line x1="154.2" y1="1017.38" x2="157.2" y2="1017.38" stroke="#c8c8c8" stroke-width="1.2"/>
<line x1="154.2" y1="968.92" x2="157.2" y2="968.92" stroke="#c8c8c8" stroke-width="1.2"/>
<line x1="154.2" y1="920.48" x2="157.2" y2="920.48" stroke="#c8c8c8" stroke-width="1.2"/>
<line x1="154.2" y1="872.02" x2="157.2" y2="872.02" stroke="#c8c8c8" stroke-width="1.2"/>
<line x1="154.2" y1="823.58" x2="157.2" y2="823.58" stroke="#c8c8c8" stroke-width="1.2"/>
<line x1="196.8" y1="893.2" x2="196.8" y2="905.4" stroke="#626262" stroke-width="2.4"/>
<path d="M193.4 891.6 L200.2 891.6 L198.1 894.8 L195.5 894.8 Z" fill="#2e2e2e"/>
<line x1="196.8" y1="949.3" x2="196.8" y2="979.8" stroke="#626262" stroke-width="2.4"/>
<path d="M193.4 981.4 L200.2 981.4 L198.1 978.2 L195.5 978.2 Z" fill="#2e2e2e"/>
<rect x="189.4" y="905.4" width="14.8" height="43.9" fill="#e0532f" stroke="#6b2a18" stroke-width="1.5" rx="1.2"/>
<line x1="190.1" y1="917.5" x2="203.5" y2="917.5" stroke="#161010" stroke-width="3.9"/>
<line x1="246.1" y1="870" x2="246.1" y2="908" stroke="#626262" stroke-width="2.4"/>
<path d="M242.7 868.4 L249.5 868.4 L247.4 871.6 L244.8 871.6 Z" fill="#2e2e2e"/>
<line x1="246.1" y1="961" x2="246.1" y2="975.4" stroke="#626262" stroke-width="2.4"/>
<path d="M242.7 977 L249.5 977 L247.4 973.8 L244.8 973.8 Z" fill="#2e2e2e"/>
<rect x="238.7" y="908" width="14.8" height="53" fill="#e0532f" stroke="#6b2a18" stroke-width="1.5" rx="1.2"/>
<line x1="239.4" y1="946" x2="252.8" y2="946" stroke="#161010" stroke-width="3.9"/>
<line x1="295.7" y1="844.2" x2="295.7" y2="914.4" stroke="#626262" stroke-width="2.4"/>
<path d="M292.3 842.6 L299.1 842.6 L297 845.8 L294.4 845.8 Z" fill="#2e2e2e"/>
<line x1="295.7" y1="1044.9" x2="295.7" y2="1057.6" stroke="#626262" stroke-width="2.4"/>
<path d="M292.3 1059.2 L299.1 1059.2 L297 1056 L294.4 1056 Z" fill="#2e2e2e"/>
<rect x="288.3" y="914.4" width="14.8" height="130.5" fill="#e0532f" stroke="#6b2a18" stroke-width="1.5" rx="1.2"/>
<line x1="289" y1="991.7" x2="302.4" y2="991.7" stroke="#161010" stroke-width="3.9"/>
<line x1="344.8" y1="845.7" x2="344.8" y2="850.9" stroke="#626262" stroke-width="2.4"/>
<path d="M341.4 844.1 L348.2 844.1 L346.1 847.3 L343.5 847.3 Z" fill="#2e2e2e"/>
<line x1="344.8" y1="1004.6" x2="344.8" y2="1026.3" stroke="#626262" stroke-width="2.4"/>
<path d="M341.4 1027.9 L348.2 1027.9 L346.1 1024.7 L343.5 1024.7 Z" fill="#2e2e2e"/>
<rect x="337.4" y="850.9" width="14.8" height="153.7" fill="#e0532f" stroke="#6b2a18" stroke-width="1.5" rx="1.2"/>
<line x1="338.1" y1="891.2" x2="351.5" y2="891.2" stroke="#161010" stroke-width="3.9"/>
<line x1="408.2" y1="899" x2="408.2" y2="911.6" stroke="#1c1f14" stroke-width="4.2"/>
<line x1="400.3" y1="905.8" x2="416.1" y2="905.8" stroke="#141810" stroke-width="4.8"/>
<line x1="457.6" y1="851.9" x2="457.6" y2="892.5" stroke="#626262" stroke-width="2.4"/>
<path d="M454.2 850.3 L461 850.3 L458.9 853.5 L456.3 853.5 Z" fill="#2e2e2e"/>
<line x1="457.6" y1="942" x2="457.6" y2="950.1" stroke="#626262" stroke-width="2.4"/>
<path d="M454.2 951.7 L461 951.7 L458.9 948.5 L456.3 948.5 Z" fill="#2e2e2e"/>
<rect x="450.2" y="892.5" width="14.8" height="49.5" fill="#5b7943" stroke="#2f3f22" stroke-width="1.5" rx="1.2"/>
<line x1="450.9" y1="933" x2="464.3" y2="933" stroke="#161010" stroke-width="3.9"/>
<line x1="506.8" y1="903.7" x2="506.8" y2="922" stroke="#626262" stroke-width="2.4"/>
<path d="M503.4 902.1 L510.2 902.1 L508.1 905.3 L505.5 905.3 Z" fill="#2e2e2e"/>
<line x1="506.8" y1="984" x2="506.8" y2="993.4" stroke="#626262" stroke-width="2.4"/>
<path d="M503.4 995 L510.2 995 L508.1 991.8 L505.5 991.8 Z" fill="#2e2e2e"/>
<rect x="499.4" y="922" width="14.8" height="62" fill="#5b7943" stroke="#2f3f22" stroke-width="1.5" rx="1.2"/>
<line x1="500.1" y1="979.6" x2="513.5" y2="979.6" stroke="#161010" stroke-width="3.9"/>
<line x1="556.7" y1="901.6" x2="556.7" y2="948.6" stroke="#626262" stroke-width="2.4"/>
<path d="M553.3 900 L560.1 900 L558 903.2 L555.4 903.2 Z" fill="#2e2e2e"/>
<line x1="556.7" y1="1004.2" x2="556.7" y2="1029" stroke="#626262" stroke-width="2.4"/>
<path d="M553.3 1030.6 L560.1 1030.6 L558 1027.4 L555.4 1027.4 Z" fill="#2e2e2e"/>
<rect x="549.3" y="948.6" width="14.8" height="55.6" fill="#5b7943" stroke="#2f3f22" stroke-width="1.5" rx="1.2"/>
<line x1="550" y1="985.3" x2="563.4" y2="985.3" stroke="#161010" stroke-width="3.9"/>
<line x1="619.7" y1="889" x2="619.7" y2="908.6" stroke="#626262" stroke-width="2.4"/>
<path d="M616.3 887.4 L623.1 887.4 L621 890.6 L618.4 890.6 Z" fill="#2e2e2e"/>
<line x1="619.7" y1="981" x2="619.7" y2="1032.1" stroke="#626262" stroke-width="2.4"/>
<path d="M616.3 1033.7 L623.1 1033.7 L621 1030.5 L618.4 1030.5 Z" fill="#2e2e2e"/>
<rect x="612.3" y="908.6" width="14.8" height="72.4" fill="#4f98e6" stroke="#2a4f80" stroke-width="1.5" rx="1.2"/>
<line x1="613" y1="929.8" x2="626.4" y2="929.8" stroke="#161010" stroke-width="3.9"/>
<line x1="669.5" y1="875.3" x2="669.5" y2="931.1" stroke="#626262" stroke-width="2.4"/>
<path d="M666.1 873.7 L672.9 873.7 L670.8 876.9 L668.2 876.9 Z" fill="#2e2e2e"/>
<line x1="669.5" y1="1006" x2="669.5" y2="1023" stroke="#626262" stroke-width="2.4"/>
<path d="M666.1 1024.6 L672.9 1024.6 L670.8 1021.4 L668.2 1021.4 Z" fill="#2e2e2e"/>
<rect x="662.1" y="931.1" width="14.8" height="74.9" fill="#4f98e6" stroke="#2a4f80" stroke-width="1.5" rx="1.2"/>
<line x1="662.8" y1="986.6" x2="676.2" y2="986.6" stroke="#161010" stroke-width="3.9"/>
<line x1="718.6" y1="933.4" x2="718.6" y2="1005.5" stroke="#626262" stroke-width="2.4"/>
<path d="M715.2 931.8 L722 931.8 L719.9 935 L717.3 935 Z" fill="#2e2e2e"/>
<line x1="718.6" y1="1057.6" x2="718.6" y2="1086.6" stroke="#626262" stroke-width="2.4"/>
<path d="M715.2 1088.2 L722 1088.2 L719.9 1085 L717.3 1085 Z" fill="#2e2e2e"/>
<rect x="711.2" y="1005.5" width="14.8" height="52.1" fill="#4f98e6" stroke="#2a4f80" stroke-width="1.5" rx="1.2"/>
<line x1="711.9" y1="1053.2" x2="725.3" y2="1053.2" stroke="#161010" stroke-width="3.9"/>
<line x1="768.2" y1="935.2" x2="768.2" y2="963.9" stroke="#626262" stroke-width="2.4"/>
<path d="M764.8 933.6 L771.6 933.6 L769.5 936.8 L766.9 936.8 Z" fill="#2e2e2e"/>
<line x1="768.2" y1="1057.6" x2="768.2" y2="1062.6" stroke="#626262" stroke-width="2.4"/>
<path d="M764.8 1064.2 L771.6 1064.2 L769.5 1061 L766.9 1061 Z" fill="#2e2e2e"/>
<rect x="760.8" y="963.9" width="14.8" height="93.7" fill="#4f98e6" stroke="#2a4f80" stroke-width="1.5" rx="1.2"/>
<line x1="761.5" y1="1029.7" x2="774.9" y2="1029.7" stroke="#161010" stroke-width="3.9"/>
<line x1="157.2" y1="802.6" x2="157.2" y2="1139.5" stroke="#a8a8a8" stroke-width="2.2"/>
<line x1="156.2" y1="1138.5" x2="807" y2="1138.5" stroke="#a8a8a8" stroke-width="2.4"/>
<text x="124.2" y="1144.03" font-size="12.6" font-weight="bold" fill="#000" textLength="25.4" lengthAdjust="spacingAndGlyphs" stroke="#000" stroke-width="0.25">.00</text>
<text x="124.2" y="1095.58" font-size="12.6" font-weight="bold" fill="#000" textLength="25.4" lengthAdjust="spacingAndGlyphs" stroke="#000" stroke-width="0.25">.20</text>
<text x="124.2" y="1047.13" font-size="12.6" font-weight="bold" fill="#000" textLength="25.4" lengthAdjust="spacingAndGlyphs" stroke="#000" stroke-width="0.25">.40</text>
<text x="124.2" y="998.68" font-size="12.6" font-weight="bold" fill="#000" textLength="25.4" lengthAdjust="spacingAndGlyphs" stroke="#000" stroke-width="0.25">.60</text>
<text x="124.2" y="950.23" font-size="12.6" font-weight="bold" fill="#000" textLength="25.4" lengthAdjust="spacingAndGlyphs" stroke="#000" stroke-width="0.25">.80</text>
<text x="114.05" y="901.78" font-size="12.6" font-weight="bold" fill="#000" textLength="35.55" lengthAdjust="spacingAndGlyphs" stroke="#000" stroke-width="0.25">1.00</text>
<text x="114.05" y="853.33" font-size="12.6" font-weight="bold" fill="#000" textLength="35.55" lengthAdjust="spacingAndGlyphs" stroke="#000" stroke-width="0.25">1.20</text>
<text transform="translate(93.8 997.8) rotate(-90) scale(1 1)" x="0" y="0" font-size="23.26" font-weight="bold" fill="#000" textLength="54.6" lengthAdjust="spacingAndGlyphs">HSP72</text>
<text transform="translate(202.1 1144.8) rotate(90) scale(1 1.67)" x="0" y="0" font-size="12" font-weight="bold" fill="#000" stroke="#000" stroke-width="0.45" textLength="32" lengthAdjust="spacingAndGlyphs">XSN4</text>
<text transform="translate(249.3 1144.8) rotate(90) scale(1 1.67)" x="0" y="0" font-size="12" font-weight="bold" fill="#000" stroke="#000" stroke-width="0.45" textLength="32" lengthAdjust="spacingAndGlyphs">XSN8</text>
<text transform="translate(299.5 1144.8) rotate(90) scale(1 1.67)" x="0" y="0" font-size="12" font-weight="bold" fill="#000" stroke="#000" stroke-width="0.45" textLength="37.5" lengthAdjust="spacingAndGlyphs">XTB4</text>
<text transform="translate(349.7 1144.8) rotate(90) scale(1 1.67)" x="0" y="0" font-size="12" font-weight="bold" fill="#000" stroke="#000" stroke-width="0.45" textLength="37.5" lengthAdjust="spacingAndGlyphs">XTB8</text>
<text transform="translate(399.9 1144.8) rotate(90) scale(1 1.67)" x="0" y="0" font-size="12" font-weight="bold" fill="#000" stroke="#000" stroke-width="0.45" textLength="32" lengthAdjust="spacingAndGlyphs">OSN4</text>
<text transform="translate(448.2 1144.8) rotate(90) scale(1 1.67)" x="0" y="0" font-size="12" font-weight="bold" fill="#000" stroke="#000" stroke-width="0.45" textLength="32" lengthAdjust="spacingAndGlyphs">OSN8</text>
<text transform="translate(497.7 1144.8) rotate(90) scale(1 1.67)" x="0" y="0" font-size="12" font-weight="bold" fill="#000" stroke="#000" stroke-width="0.45" textLength="37.5" lengthAdjust="spacingAndGlyphs">OTB4</text>
<text transform="translate(546.8 1144.8) rotate(90) scale(1 1.67)" x="0" y="0" font-size="12" font-weight="bold" fill="#000" stroke="#000" stroke-width="0.45" textLength="37.5" lengthAdjust="spacingAndGlyphs">OTB8</text>
<text transform="translate(597 1144.8) rotate(90) scale(1 1.67)" x="0" y="0" font-size="12" font-weight="bold" fill="#000" stroke="#000" stroke-width="0.45" textLength="43.2" lengthAdjust="spacingAndGlyphs">SCSN4</text>
<text transform="translate(646.1 1144.8) rotate(90) scale(1 1.67)" x="0" y="0" font-size="12" font-weight="bold" fill="#000" stroke="#000" stroke-width="0.45" textLength="43.2" lengthAdjust="spacingAndGlyphs">SCSN8</text>
<text transform="translate(695.6 1144.8) rotate(90) scale(1 1.67)" x="0" y="0" font-size="12" font-weight="bold" fill="#000" stroke="#000" stroke-width="0.45" textLength="47" lengthAdjust="spacingAndGlyphs">SCTB4</text>
<text transform="translate(745 1144.8) rotate(90) scale(1 1.67)" x="0" y="0" font-size="12" font-weight="bold" fill="#000" stroke="#000" stroke-width="0.45" textLength="47" lengthAdjust="spacingAndGlyphs">SCTB8</text>
<text x="198.5" y="1219.2" font-size="13.66" font-weight="bold" fill="#000" textLength="569" lengthAdjust="spacingAndGlyphs" stroke="#000" stroke-width="0.35">Pretreatment, experimental stress and time post CHI</text>
<text x="814.2" y="820.2" font-size="14.39" font-weight="bold" fill="#000" textLength="121.3" lengthAdjust="spacingAndGlyphs">Pre-treatment</text>
<rect x="845.1" y="831.6" width="16.9" height="10.7" fill="#e0532f" stroke="#3a3a3a" stroke-width="1.1"/>
<text x="867.1" y="842" font-size="13.26" font-weight="bold" fill="#000" textLength="36" lengthAdjust="spacingAndGlyphs">ATX</text>
<rect x="845.1" y="848.9" width="16.9" height="10.7" fill="#5b7943" stroke="#3a3a3a" stroke-width="1.1"/>
<text x="867.1" y="859.3" font-size="13.26" font-weight="bold" fill="#000" textLength="28.4" lengthAdjust="spacingAndGlyphs">OIL</text>
<rect x="845.1" y="866.5" width="16.9" height="11.1" fill="#4f98e6" stroke="#3a3a3a" stroke-width="1.1"/>
<text x="867.1" y="877.3" font-size="13.72" font-weight="bold" fill="#000" textLength="25.8" lengthAdjust="spacingAndGlyphs">SC</text>
<rect x="175" y="1232" width="611" height="79" fill="#fafafa" filter="url(#bl3)"/>
<text x="82.5" y="1257.5" font-size="24.71" font-weight="normal" fill="#2a2a2a" textLength="57.5" lengthAdjust="spacingAndGlyphs" stroke="#2a2a2a" stroke-width="0.9">Actin</text>
<text x="78.5" y="1294.5" font-size="24.71" font-weight="normal" fill="#2a2a2a" textLength="66.5" lengthAdjust="spacingAndGlyphs" stroke="#2a2a2a" stroke-width="0.9">HSP72</text>
<path d="M181.9 1253.09 L187.67 1252.24 L193.43 1252.34 L199.2 1251.99 L204.97 1252.02 L210.73 1251.56 L216.5 1253.35 L216.5 1258.06 L210.73 1259.02 L204.97 1258.53 L199.2 1258.65 L193.43 1258.81 L187.67 1259.25 L181.9 1257.98 Z" fill="rgb(0,0,0)" stroke="rgb(0,0,0)" stroke-width="1.65" stroke-linejoin="round" filter="url(#bl1_3)"/>
<path d="M233.1 1254.79 L239.15 1253.57 L245.2 1253.91 L251.25 1254.32 L257.3 1253.83 L263.35 1253.78 L269.4 1255.67 L269.4 1260.16 L263.35 1261.31 L257.3 1260.81 L251.25 1260.37 L245.2 1260.83 L239.15 1261.01 L233.1 1259.29 Z" fill="rgb(0,0,0)" stroke="rgb(0,0,0)" stroke-width="1.65" stroke-linejoin="round" filter="url(#bl1_3)"/>
<path d="M286 1253.68 L291.77 1253.59 L297.53 1254.45 L303.3 1254.69 L309.07 1255.32 L314.83 1256.11 L320.6 1257.74 L320.6 1263.04 L314.83 1262.75 L309.07 1261.97 L303.3 1261.42 L297.53 1260.83 L291.77 1260.61 L286 1258.8 Z" fill="rgb(64,64,64)" stroke="rgb(64,64,64)" stroke-width="1.65" stroke-linejoin="round" filter="url(#bl1_3)"/>
<path d="M338 1257.46 L343.92 1255.91 L349.83 1256 L355.75 1255.13 L361.67 1253.77 L367.58 1254.23 L373.5 1254.45 L373.5 1258.99 L367.58 1260.08 L361.67 1261.14 L355.75 1260.98 L349.83 1261.77 L343.92 1262.98 L338 1262.35 Z" fill="url(#g14)" stroke="url(#g14)" stroke-width="1.65" stroke-linejoin="round" filter="url(#bl1_3)"/>
<path d="M389.3 1253.45 L395.33 1252.88 L401.37 1251.99 L407.4 1252 L413.43 1250.74 L419.47 1250.68 L425.5 1251.5 L425.5 1256.66 L419.47 1257.59 L413.43 1258.12 L407.4 1257.64 L401.37 1259.01 L395.33 1258.94 L389.3 1258.96 Z" fill="url(#g15)" stroke="url(#g15)" stroke-width="1.65" stroke-linejoin="round" filter="url(#bl1_3)"/>
<path d="M441.3 1251.73 L446.93 1250.39 L452.57 1250.5 L458.2 1250.85 L463.83 1250.11 L469.47 1250.25 L475.1 1251.76 L475.1 1256.22 L469.47 1257.16 L463.83 1257.2 L458.2 1256.79 L452.57 1257.63 L446.93 1257.89 L441.3 1256.46 Z" fill="rgb(25,25,25)" stroke="rgb(25,25,25)" stroke-width="1.65" stroke-linejoin="round" filter="url(#bl1_3)"/>
<path d="M490.1 1250.49 L496 1249.41 L501.9 1249.96 L507.8 1248.82 L513.7 1248.43 L519.6 1248.86 L525.5 1249.64 L525.5 1254.87 L519.6 1255.36 L513.7 1255.96 L507.8 1256.02 L501.9 1255.68 L496 1256.89 L490.1 1256.04 Z" fill="rgb(38,38,38)" stroke="rgb(38,38,38)" stroke-width="1.65" stroke-linejoin="round" filter="url(#bl1_3)"/>
<path d="M540.5 1248.53 L545.88 1247.77 L551.27 1248.02 L556.65 1247.17 L562.03 1247.7 L567.42 1247.38 L572.8 1248.88 L572.8 1253.51 L567.42 1254.4 L562.03 1253.81 L556.65 1254.76 L551.27 1254.24 L545.88 1254.68 L540.5 1253.6 Z" fill="rgb(38,38,38)" stroke="rgb(38,38,38)" stroke-width="1.65" stroke-linejoin="round" filter="url(#bl1_3)"/>
<path d="M592.5 1252.02 L598.42 1251.58 L604.33 1251.54 L610.25 1251.16 L616.17 1250.15 L622.08 1250.68 L628 1251.12 L628 1256.68 L622.08 1256.67 L616.17 1257.45 L610.25 1257.2 L604.33 1257.54 L598.42 1257.95 L592.5 1257.44 Z" fill="rgb(0,0,0)" stroke="rgb(0,0,0)" stroke-width="1.65" stroke-linejoin="round" filter="url(#bl1_3)"/>
<path d="M641.5 1249.42 L647.53 1249.14 L653.57 1248.18 L659.6 1248.35 L665.63 1248.31 L671.67 1247.99 L677.7 1249.08 L677.7 1254.61 L671.67 1255.26 L665.63 1254.81 L659.6 1254.99 L653.57 1255.68 L647.53 1254.96 L641.5 1254.31 Z" fill="rgb(0,0,0)" stroke="rgb(0,0,0)" stroke-width="1.65" stroke-linejoin="round" filter="url(#bl1_3)"/>
<path d="M691.9 1251.21 L697.8 1250.76 L703.7 1250.79 L709.6 1250.89 L715.5 1250.7 L721.4 1250.41 L727.3 1252.38 L727.3 1256.81 L721.4 1257.63 L715.5 1256.94 L709.6 1256.65 L703.7 1256.94 L697.8 1256.86 L691.9 1255.99 Z" fill="rgb(0,0,0)" stroke="rgb(0,0,0)" stroke-width="1.65" stroke-linejoin="round" filter="url(#bl1_3)"/>
<path d="M742.3 1251.82 L748.33 1250.83 L754.37 1250.64 L760.4 1250.86 L766.43 1250.62 L772.47 1250.59 L778.5 1251.68 L778.5 1256.3 L772.47 1257.03 L766.43 1256.68 L760.4 1256.85 L754.37 1257.47 L748.33 1257.42 L742.3 1256.35 Z" fill="url(#g16)" stroke="url(#g16)" stroke-width="1.65" stroke-linejoin="round" filter="url(#bl1_3)"/>
<path d="M181.9 1279.16 L187.67 1278.77 L193.43 1278.16 L199.2 1278.09 L204.97 1277.76 L210.73 1278.51 L216.5 1279.17 L216.5 1283.84 L210.73 1284.04 L204.97 1284.59 L199.2 1284.32 L193.43 1284.96 L187.67 1284.47 L181.9 1283.68 Z" fill="rgb(0,0,0)" stroke="rgb(0,0,0)" stroke-width="1.55" stroke-linejoin="round" filter="url(#bl1_3)"/>
<path d="M233.1 1281.06 L239.15 1280.88 L245.2 1280.81 L251.25 1280.72 L257.3 1280.42 L263.35 1280.58 L269.4 1282.14 L269.4 1286.78 L263.35 1287.64 L257.3 1287.02 L251.25 1286.81 L245.2 1286.54 L239.15 1286.54 L233.1 1285.64 Z" fill="rgb(0,0,0)" stroke="rgb(0,0,0)" stroke-width="1.55" stroke-linejoin="round" filter="url(#bl1_3)"/>
<path d="M286 1282.44 L291.77 1282.02 L297.53 1282.35 L303.3 1282.59 L309.07 1282.52 L314.83 1283.54 L320.6 1285.02 L320.6 1289.18 L314.83 1289.46 L309.07 1289.44 L303.3 1288.87 L297.53 1288.84 L291.77 1288.95 L286 1287.36 Z" fill="rgb(77,77,77)" stroke="rgb(77,77,77)" stroke-width="1.55" stroke-linejoin="round" filter="url(#bl1_3)"/>
<path d="M338 1286.23 L343.92 1284.71 L349.83 1284 L355.75 1283.78 L361.67 1282.44 L367.58 1281.9 L373.5 1283.16 L373.5 1287.43 L367.58 1289 L361.67 1289.27 L355.75 1289.41 L349.83 1290.62 L343.92 1290.97 L338 1290.32 Z" fill="rgb(20,20,20)" stroke="rgb(20,20,20)" stroke-width="1.55" stroke-linejoin="round" filter="url(#bl1_3)"/>
<path d="M389.3 1281.83 L395.33 1280.64 L401.37 1280.15 L407.4 1278.98 L413.43 1277.98 L419.47 1278.17 L425.5 1278.29 L425.5 1283.28 L419.47 1283.94 L413.43 1284.92 L407.4 1285.29 L401.37 1285.42 L395.33 1286.24 L389.3 1285.82 Z" fill="url(#g17)" stroke="url(#g17)" stroke-width="1.55" stroke-linejoin="round" filter="url(#bl1_3)"/>
<path d="M441.3 1278.79 L446.93 1278.1 L452.57 1277.52 L458.2 1277.81 L463.83 1277.05 L469.47 1277.09 L475.1 1277.96 L475.1 1282.26 L469.47 1283.36 L463.83 1283.35 L458.2 1283.26 L452.57 1284.34 L446.93 1284.27 L441.3 1283.69 Z" fill="rgb(0,0,0)" stroke="rgb(0,0,0)" stroke-width="1.55" stroke-linejoin="round" filter="url(#bl1_3)"/>
<path d="M490.1 1277.33 L496 1276.58 L501.9 1275.56 L507.8 1274.91 L513.7 1274.28 L519.6 1274.42 L525.5 1274.2 L525.5 1279.49 L519.6 1279.88 L513.7 1280.64 L507.8 1281.25 L501.9 1282.2 L496 1282.27 L490.1 1282.47 Z" fill="url(#g18)" stroke="url(#g18)" stroke-width="1.55" stroke-linejoin="round" filter="url(#bl1_3)"/>
<path d="M540.5 1275.22 L545.88 1274.32 L551.27 1274.74 L556.65 1274.12 L562.03 1274.39 L567.42 1274.18 L572.8 1275 L572.8 1280.2 L567.42 1280.32 L562.03 1279.91 L556.65 1280.48 L551.27 1280.18 L545.88 1280.93 L540.5 1279.8 Z" fill="rgb(166,166,166)" stroke="rgb(166,166,166)" stroke-width="1.55" stroke-linejoin="round" filter="url(#bl1_3)"/>
<path d="M592.5 1274.52 L598.42 1274.44 L604.33 1274.06 L610.25 1273.26 L616.17 1272.97 L622.08 1273.5 L628 1274.34 L628 1280.52 L622.08 1281.03 L616.17 1281.37 L610.25 1281.18 L604.33 1281.16 L598.42 1280.82 L592.5 1280.66 Z" fill="rgb(0,0,0)" stroke="rgb(0,0,0)" stroke-width="1.88" stroke-linejoin="round" filter="url(#bl1_3)"/>
<path d="M641.5 1274.61 L647.53 1274.35 L653.57 1273.24 L659.6 1273.71 L665.63 1273.04 L671.67 1272.75 L677.7 1273.41 L677.7 1278.99 L671.67 1279.66 L665.63 1279.37 L659.6 1279.32 L653.57 1280.52 L647.53 1280 L641.5 1279.66 Z" fill="url(#g19)" stroke="url(#g19)" stroke-width="1.62" stroke-linejoin="round" filter="url(#bl1_3)"/>
<path d="M691.9 1275.66 L697.8 1274.5 L703.7 1274.19 L709.6 1273.67 L715.5 1274.19 L721.4 1273.89 L727.3 1275.7 L727.3 1280.92 L721.4 1282.41 L715.5 1281.74 L709.6 1282.4 L703.7 1282.49 L697.8 1282.36 L691.9 1281.03 Z" fill="rgb(178,178,178)" stroke="rgb(178,178,178)" stroke-width="2" stroke-linejoin="round" filter="url(#bl2_2)"/>
<path d="M742.3 1274.88 L748.33 1274.68 L754.37 1273.42 L760.4 1274.3 L766.43 1274.16 L772.47 1273.34 L778.5 1274.87 L778.5 1281.23 L772.47 1282.11 L766.43 1281.14 L760.4 1281.36 L754.37 1282.56 L748.33 1281.57 L742.3 1281.12 Z" fill="rgb(191,191,191)" stroke="rgb(191,191,191)" stroke-width="2" stroke-linejoin="round" filter="url(#bl2_2)"/>
<text x="187.5" y="1345.6" font-size="20.93" font-weight="normal" fill="#111" textLength="24" lengthAdjust="spacingAndGlyphs" stroke="#111" stroke-width="0.85">XSN4</text>
<text x="242.2" y="1345.6" font-size="20.93" font-weight="normal" fill="#111" textLength="24" lengthAdjust="spacingAndGlyphs" stroke="#111" stroke-width="0.85">XSN8</text>
<text x="291.15" y="1345.6" font-size="20.93" font-weight="normal" fill="#111" textLength="27.5" lengthAdjust="spacingAndGlyphs" stroke="#111" stroke-width="0.85">XTB4</text>
<text x="342.25" y="1345.6" font-size="20.93" font-weight="normal" fill="#111" textLength="27.5" lengthAdjust="spacingAndGlyphs" stroke="#111" stroke-width="0.85">XTB8</text>
<text x="394.35" y="1345.6" font-size="20.93" font-weight="normal" fill="#111" textLength="26.5" lengthAdjust="spacingAndGlyphs" stroke="#111" stroke-width="0.85">OSN4</text>
<text x="444.7" y="1345.6" font-size="20.93" font-weight="normal" fill="#111" textLength="27" lengthAdjust="spacingAndGlyphs" stroke="#111" stroke-width="0.85">OSN8</text>
<text x="494.05" y="1345.6" font-size="20.93" font-weight="normal" fill="#111" textLength="29.5" lengthAdjust="spacingAndGlyphs" stroke="#111" stroke-width="0.85">OTB4</text>
<text x="544.25" y="1345.6" font-size="20.93" font-weight="normal" fill="#111" textLength="29.5" lengthAdjust="spacingAndGlyphs" stroke="#111" stroke-width="0.85">OTB8</text>
<text x="595.1" y="1345.6" font-size="20.93" font-weight="normal" fill="#111" textLength="30" lengthAdjust="spacingAndGlyphs" stroke="#111" stroke-width="0.85">SCSN4</text>
<text x="645.7" y="1345.6" font-size="20.93" font-weight="normal" fill="#111" textLength="30" lengthAdjust="spacingAndGlyphs" stroke="#111" stroke-width="0.85">SCSN8</text>
<text x="695.65" y="1345.6" font-size="20.93" font-weight="normal" fill="#111" textLength="33.5" lengthAdjust="spacingAndGlyphs" stroke="#111" stroke-width="0.85">SCTB4</text>
<text x="745.9" y="1345.6" font-size="20.93" font-weight="normal" fill="#111" textLength="33" lengthAdjust="spacingAndGlyphs" stroke="#111" stroke-width="0.85">SCTB8</text>
<line x1="228.4" y1="1320.2" x2="228.4" y2="1355.3" stroke="#8c8c8c" stroke-width="1.9"/>
<line x1="280" y1="1320.2" x2="280" y2="1355.3" stroke="#8c8c8c" stroke-width="1.9"/>
<line x1="329.6" y1="1320.2" x2="329.6" y2="1355.3" stroke="#8c8c8c" stroke-width="1.9"/>
<line x1="381.3" y1="1320.2" x2="381.3" y2="1355.3" stroke="#8c8c8c" stroke-width="1.9"/>
<line x1="432.9" y1="1320.2" x2="432.9" y2="1355.3" stroke="#8c8c8c" stroke-width="1.9"/>
<line x1="482" y1="1320.2" x2="482" y2="1355.3" stroke="#8c8c8c" stroke-width="1.9"/>
<line x1="635.9" y1="1320.2" x2="635.9" y2="1355.3" stroke="#8c8c8c" stroke-width="1.9"/>
<line x1="686.5" y1="1320.2" x2="686.5" y2="1355.3" stroke="#8c8c8c" stroke-width="1.9"/>
<line x1="737.1" y1="1320.2" x2="737.1" y2="1355.3" stroke="#8c8c8c" stroke-width="1.9"/>
<line x1="787.8" y1="1320.2" x2="787.8" y2="1355.3" stroke="#8c8c8c" stroke-width="1.9"/>
<line x1="168.5" y1="1320.2" x2="788.8" y2="1320.2" stroke="#8c8c8c" stroke-width="3.4"/>
<line x1="168.5" y1="1355.3" x2="788.8" y2="1355.3" stroke="#333" stroke-width="3.4"/>
</g>
<text x="1064.3" y="797.8" font-size="32.27" font-weight="bold" fill="#000" textLength="41.7" lengthAdjust="spacingAndGlyphs">B2</text>
<g id="B2" filter="url(#bl0_85)">
<line x1="1191.2" y1="1086.05" x2="1857.6" y2="1086.05" stroke="#dcdcdc" stroke-width="2.2"/>
<line x1="1191.2" y1="1033.1" x2="1857.6" y2="1033.1" stroke="#dcdcdc" stroke-width="2.2"/>
<line x1="1191.2" y1="980.15" x2="1857.6" y2="980.15" stroke="#dcdcdc" stroke-width="2.2"/>
<line x1="1191.2" y1="927.2" x2="1857.6" y2="927.2" stroke="#dcdcdc" stroke-width="2.2"/>
<line x1="1191.2" y1="874.25" x2="1857.6" y2="874.25" stroke="#dcdcdc" stroke-width="2.2"/>
<line x1="1191.2" y1="821.3" x2="1857.6" y2="821.3" stroke="#dcdcdc" stroke-width="2.2"/>
<line x1="1187.2" y1="1112.53" x2="1190.2" y2="1112.53" stroke="#c8c8c8" stroke-width="1.2"/>
<line x1="1187.2" y1="1059.58" x2="1190.2" y2="1059.58" stroke="#c8c8c8" stroke-width="1.2"/>
<line x1="1187.2" y1="1006.62" x2="1190.2" y2="1006.62" stroke="#c8c8c8" stroke-width="1.2"/>
<line x1="1187.2" y1="953.67" x2="1190.2" y2="953.67" stroke="#c8c8c8" stroke-width="1.2"/>
<line x1="1187.2" y1="900.73" x2="1190.2" y2="900.73" stroke="#c8c8c8" stroke-width="1.2"/>
<line x1="1187.2" y1="847.77" x2="1190.2" y2="847.77" stroke="#c8c8c8" stroke-width="1.2"/>
<line x1="1187.2" y1="794.83" x2="1190.2" y2="794.83" stroke="#c8c8c8" stroke-width="1.2"/>
<line x1="1231.1" y1="823.8" x2="1231.1" y2="871.8" stroke="#626262" stroke-width="2.4"/>
<path d="M1227.7 822.2 L1234.5 822.2 L1232.4 825.4 L1229.8 825.4 Z" fill="#2e2e2e"/>
<line x1="1231.1" y1="939.5" x2="1231.1" y2="959.2" stroke="#626262" stroke-width="2.4"/>
<path d="M1227.7 960.8 L1234.5 960.8 L1232.4 957.6 L1229.8 957.6 Z" fill="#2e2e2e"/>
<rect x="1223.6" y="871.8" width="15" height="67.7" fill="#e0532f" stroke="#6b2a18" stroke-width="1.5" rx="1.2"/>
<line x1="1224.3" y1="919.3" x2="1237.9" y2="919.3" stroke="#161010" stroke-width="3.9"/>
<line x1="1281.5" y1="903.8" x2="1281.5" y2="934.3" stroke="#626262" stroke-width="2.4"/>
<path d="M1278.1 902.2 L1284.9 902.2 L1282.8 905.4 L1280.2 905.4 Z" fill="#2e2e2e"/>
<line x1="1281.5" y1="966.6" x2="1281.5" y2="968.7" stroke="#626262" stroke-width="2.4"/>
<path d="M1278.1 970.3 L1284.9 970.3 L1282.8 967.1 L1280.2 967.1 Z" fill="#2e2e2e"/>
<rect x="1274" y="934.3" width="15" height="32.3" fill="#e0532f" stroke="#6b2a18" stroke-width="1.5" rx="1.2"/>
<line x1="1274.7" y1="964" x2="1288.3" y2="964" stroke="#161010" stroke-width="3.9"/>
<rect x="1325.1" y="921.4" width="15" height="44.4" fill="#e0532f" stroke="#6b2a18" stroke-width="1.5" rx="1.2"/>
<line x1="1325.8" y1="944.7" x2="1339.4" y2="944.7" stroke="#161010" stroke-width="3.9"/>
<ellipse cx="1332.6" cy="843.4" rx="4" ry="3.2" fill="#b0361c"/>
<ellipse cx="1332.6" cy="1040.7" rx="4" ry="3.2" fill="#b0361c"/>
<rect x="1375.5" y="889.1" width="15" height="20.7" fill="#e0532f" stroke="#6b2a18" stroke-width="1.5" rx="1.2"/>
<line x1="1376.2" y1="899.7" x2="1389.8" y2="899.7" stroke="#161010" stroke-width="3.9"/>
<ellipse cx="1383" cy="832.3" rx="4" ry="3.2" fill="#b0361c"/>
<circle cx="1383" cy="979" r="1.9" fill="#e0532f" opacity="0.8"/>
<path d="M1439 952.4 L1448 948.4 L1457 952.4 L1448 956.4 Z" fill="#151515"/>
<line x1="1439.5" y1="952.4" x2="1456.5" y2="952.4" stroke="#151515" stroke-width="4.2"/>
<line x1="1499.2" y1="892.7" x2="1499.2" y2="902.8" stroke="#626262" stroke-width="2.4"/>
<path d="M1495.8 891.1 L1502.6 891.1 L1500.5 894.3 L1497.9 894.3 Z" fill="#2e2e2e"/>
<line x1="1499.2" y1="920.1" x2="1499.2" y2="927.4" stroke="#626262" stroke-width="2.4"/>
<path d="M1495.8 929 L1502.6 929 L1500.5 925.8 L1497.9 925.8 Z" fill="#2e2e2e"/>
<rect x="1491.7" y="902.8" width="15" height="17.3" fill="#5b7943" stroke="#2f3f22" stroke-width="1.5" rx="1.2"/>
<line x1="1492.4" y1="911.9" x2="1506" y2="911.9" stroke="#161010" stroke-width="3.9"/>
<line x1="1549.8" y1="830.2" x2="1549.8" y2="868.5" stroke="#626262" stroke-width="2.4"/>
<path d="M1546.4 828.6 L1553.2 828.6 L1551.1 831.8 L1548.5 831.8 Z" fill="#2e2e2e"/>
<line x1="1549.8" y1="942.1" x2="1549.8" y2="955.3" stroke="#626262" stroke-width="2.4"/>
<path d="M1546.4 956.9 L1553.2 956.9 L1551.1 953.7 L1548.5 953.7 Z" fill="#2e2e2e"/>
<rect x="1542.3" y="868.5" width="15" height="73.6" fill="#5b7943" stroke="#2f3f22" stroke-width="1.5" rx="1.2"/>
<line x1="1543" y1="935.6" x2="1556.6" y2="935.6" stroke="#161010" stroke-width="3.9"/>
<rect x="1593.2" y="915.5" width="15" height="18.8" fill="#5b7943" stroke="#2f3f22" stroke-width="1.5" rx="1.2"/>
<line x1="1593.9" y1="918.1" x2="1607.5" y2="918.1" stroke="#161010" stroke-width="3.9"/>
<circle cx="1600.7" cy="995" r="1.9" fill="#5b7943" opacity="0.8"/>
<line x1="1665.8" y1="923.7" x2="1665.8" y2="936.9" stroke="#626262" stroke-width="2.4"/>
<path d="M1662.4 922.1 L1669.2 922.1 L1667.1 925.3 L1664.5 925.3 Z" fill="#2e2e2e"/>
<line x1="1665.8" y1="972.3" x2="1665.8" y2="991.4" stroke="#626262" stroke-width="2.4"/>
<path d="M1662.4 993 L1669.2 993 L1667.1 989.8 L1664.5 989.8 Z" fill="#2e2e2e"/>
<rect x="1658.3" y="936.9" width="15" height="35.4" fill="#4f98e6" stroke="#2a4f80" stroke-width="1.5" rx="1.2"/>
<line x1="1659" y1="950.6" x2="1672.6" y2="950.6" stroke="#161010" stroke-width="3.9"/>
<line x1="1717" y1="908.2" x2="1717" y2="933" stroke="#626262" stroke-width="2.4"/>
<path d="M1713.6 906.6 L1720.4 906.6 L1718.3 909.8 L1715.7 909.8 Z" fill="#2e2e2e"/>
<line x1="1717" y1="984.2" x2="1717" y2="1010" stroke="#626262" stroke-width="2.4"/>
<path d="M1713.6 1011.6 L1720.4 1011.6 L1718.3 1008.4 L1715.7 1008.4 Z" fill="#2e2e2e"/>
<rect x="1709.5" y="933" width="15" height="51.2" fill="#4f98e6" stroke="#2a4f80" stroke-width="1.5" rx="1.2"/>
<line x1="1710.2" y1="958.1" x2="1723.8" y2="958.1" stroke="#161010" stroke-width="3.9"/>
<line x1="1767.8" y1="1004" x2="1767.8" y2="1031.5" stroke="#626262" stroke-width="2.4"/>
<path d="M1764.4 1033.1 L1771.2 1033.1 L1769.1 1029.9 L1766.5 1029.9 Z" fill="#2e2e2e"/>
<rect x="1760.3" y="980.8" width="15" height="23.2" fill="#4f98e6" stroke="#2a4f80" stroke-width="1.5" rx="1.2"/>
<line x1="1761" y1="996.3" x2="1774.6" y2="996.3" stroke="#161010" stroke-width="3.9"/>
<circle cx="1767.8" cy="901.5" r="1.9" fill="#4f98e6" opacity="0.8"/>
<line x1="1818.4" y1="983.4" x2="1818.4" y2="1012.6" stroke="#626262" stroke-width="2.4"/>
<path d="M1815 1014.2 L1821.8 1014.2 L1819.7 1011 L1817.1 1011 Z" fill="#2e2e2e"/>
<rect x="1810.9" y="948" width="15" height="35.4" fill="#4f98e6" stroke="#2a4f80" stroke-width="1.5" rx="1.2"/>
<line x1="1811.6" y1="964.8" x2="1825.2" y2="964.8" stroke="#161010" stroke-width="3.9"/>
<ellipse cx="1818.4" cy="889.6" rx="4" ry="3.2" fill="#2f6fc0"/>
<line x1="1190.2" y1="785.8" x2="1190.2" y2="1140" stroke="#a8a8a8" stroke-width="2.2"/>
<line x1="1189.2" y1="1139" x2="1857.6" y2="1139" stroke="#a8a8a8" stroke-width="2.4"/>
<text x="1157.36" y="1147.64" font-size="16.4" font-weight="bold" fill="#000" textLength="26.44" lengthAdjust="spacingAndGlyphs" style="font-style:italic;font-weight:normal" stroke="#000" stroke-width="0.25">.00</text>
<text x="1157.36" y="1094.69" font-size="16.4" font-weight="bold" fill="#000" textLength="26.44" lengthAdjust="spacingAndGlyphs" style="font-style:italic;font-weight:normal" stroke="#000" stroke-width="0.25">.10</text>
<text x="1157.36" y="1041.74" font-size="16.4" font-weight="bold" fill="#000" textLength="26.44" lengthAdjust="spacingAndGlyphs" style="font-style:italic;font-weight:normal" stroke="#000" stroke-width="0.25">.20</text>
<text x="1157.36" y="988.79" font-size="16.4" font-weight="bold" fill="#000" textLength="26.44" lengthAdjust="spacingAndGlyphs" style="font-style:italic;font-weight:normal" stroke="#000" stroke-width="0.25">.30</text>
<text x="1157.36" y="935.84" font-size="16.4" font-weight="bold" fill="#000" textLength="26.44" lengthAdjust="spacingAndGlyphs" style="font-style:italic;font-weight:normal" stroke="#000" stroke-width="0.25">.40</text>
<text x="1157.36" y="882.89" font-size="16.4" font-weight="bold" fill="#000" textLength="26.44" lengthAdjust="spacingAndGlyphs" style="font-style:italic;font-weight:normal" stroke="#000" stroke-width="0.25">.50</text>
<text x="1157.36" y="829.94" font-size="16.4" font-weight="bold" fill="#000" textLength="26.44" lengthAdjust="spacingAndGlyphs" style="font-style:italic;font-weight:normal" stroke="#000" stroke-width="0.25">.60</text>
<text transform="translate(1137.2 990.3) rotate(-90) scale(1 1)" x="0" y="0" font-size="24.71" font-weight="bold" fill="#000" textLength="55.1" lengthAdjust="spacingAndGlyphs">HSP27</text>
<text transform="translate(1234.9 1145.3) rotate(90) scale(1 1.6)" x="0" y="0" font-size="12.5" font-weight="bold" fill="#000" stroke="#000" stroke-width="0.45" textLength="33.92" lengthAdjust="spacingAndGlyphs">XSN4</text>
<text transform="translate(1286.5 1145.3) rotate(90) scale(1 1.6)" x="0" y="0" font-size="12.5" font-weight="bold" fill="#000" stroke="#000" stroke-width="0.45" textLength="33.92" lengthAdjust="spacingAndGlyphs">XSN8</text>
<text transform="translate(1336.9 1145.3) rotate(90) scale(1 1.6)" x="0" y="0" font-size="12.5" font-weight="bold" fill="#000" stroke="#000" stroke-width="0.45" textLength="39.75" lengthAdjust="spacingAndGlyphs">XTB4</text>
<text transform="translate(1389.2 1145.3) rotate(90) scale(1 1.6)" x="0" y="0" font-size="12.5" font-weight="bold" fill="#000" stroke="#000" stroke-width="0.45" textLength="39.75" lengthAdjust="spacingAndGlyphs">XTB8</text>
<text transform="translate(1439.6 1145.3) rotate(90) scale(1 1.6)" x="0" y="0" font-size="12.5" font-weight="bold" fill="#000" stroke="#000" stroke-width="0.45" textLength="33.92" lengthAdjust="spacingAndGlyphs">OSN4</text>
<text transform="translate(1490 1145.3) rotate(90) scale(1 1.6)" x="0" y="0" font-size="12.5" font-weight="bold" fill="#000" stroke="#000" stroke-width="0.45" textLength="33.92" lengthAdjust="spacingAndGlyphs">OSN8</text>
<text transform="translate(1541.1 1145.3) rotate(90) scale(1 1.6)" x="0" y="0" font-size="12.5" font-weight="bold" fill="#000" stroke="#000" stroke-width="0.45" textLength="39.75" lengthAdjust="spacingAndGlyphs">OTB4</text>
<text transform="translate(1592.7 1145.3) rotate(90) scale(1 1.6)" x="0" y="0" font-size="12.5" font-weight="bold" fill="#000" stroke="#000" stroke-width="0.45" textLength="39.75" lengthAdjust="spacingAndGlyphs">OTB8</text>
<text transform="translate(1641.8 1145.3) rotate(90) scale(1 1.6)" x="0" y="0" font-size="12.5" font-weight="bold" fill="#000" stroke="#000" stroke-width="0.45" textLength="45.79" lengthAdjust="spacingAndGlyphs">SCSN4</text>
<text transform="translate(1693.4 1145.3) rotate(90) scale(1 1.6)" x="0" y="0" font-size="12.5" font-weight="bold" fill="#000" stroke="#000" stroke-width="0.45" textLength="45.79" lengthAdjust="spacingAndGlyphs">SCSN8</text>
<text transform="translate(1743.8 1145.3) rotate(90) scale(1 1.6)" x="0" y="0" font-size="12.5" font-weight="bold" fill="#000" stroke="#000" stroke-width="0.45" textLength="49.82" lengthAdjust="spacingAndGlyphs">SCTB4</text>
<text transform="translate(1796.2 1145.3) rotate(90) scale(1 1.6)" x="0" y="0" font-size="12.5" font-weight="bold" fill="#000" stroke="#000" stroke-width="0.45" textLength="49.82" lengthAdjust="spacingAndGlyphs">SCTB8</text>
<text x="1237" y="1222.3" font-size="15.41" font-weight="bold" fill="#000" textLength="574.1" lengthAdjust="spacingAndGlyphs" stroke="#000" stroke-width="0.35">Pretreatment, experimental stress and time post CHI</text>
<path d="M1545.2 822 L1545.2 816 Q1545.2 813 1548.2 813 L1610.6 813 Q1613.6 813 1613.6 816 L1613.6 822 M1581.4 813 L1581.4 795.3 Q1581.4 792.3 1584.4 792.3 L1788.3 792.3 Q1791.3 792.3 1791.3 795.3 L1791.3 813 M1757 822 L1757 816 Q1757 813 1760 813 L1822.4 813 Q1825.4 813 1825.4 816 L1825.4 822" fill="none" stroke="#5a9be0" stroke-width="2.2"/>
<text x="1654.5" y="816.5" font-size="16.72" font-weight="normal" fill="#1a1a1a" textLength="63" lengthAdjust="spacingAndGlyphs" stroke="#1a1a1a" stroke-width="0.4">*P&lt;0.03</text>
<text x="1865.4" y="805.9" font-size="15.12" font-weight="bold" fill="#000" textLength="122.7" lengthAdjust="spacingAndGlyphs">Pre-treatment</text>
<rect x="1896.4" y="816.8" width="18.1" height="11.9" fill="#e0532f" stroke="#3a3a3a" stroke-width="1.1"/>
<text x="1918.4" y="828.4" font-size="14.63" font-weight="bold" fill="#000" textLength="37.4" lengthAdjust="spacingAndGlyphs">ATX</text>
<rect x="1896.4" y="835.4" width="18.1" height="11.9" fill="#5b7943" stroke="#3a3a3a" stroke-width="1.1"/>
<text x="1918.4" y="847" font-size="14.63" font-weight="bold" fill="#000" textLength="29.5" lengthAdjust="spacingAndGlyphs">OIL</text>
<rect x="1896.4" y="853.5" width="18.1" height="11.9" fill="#4f98e6" stroke="#3a3a3a" stroke-width="1.1"/>
<text x="1918.4" y="865.1" font-size="14.63" font-weight="bold" fill="#000" textLength="27" lengthAdjust="spacingAndGlyphs">SC</text>
<rect x="1212" y="1234" width="624" height="78" fill="#fafafa" filter="url(#bl3)"/>
<text x="1114.5" y="1267.5" font-size="24.71" font-weight="normal" fill="#2a2a2a" textLength="59.5" lengthAdjust="spacingAndGlyphs" stroke="#2a2a2a" stroke-width="0.9">Actin</text>
<text x="1110.5" y="1305.5" font-size="24.71" font-weight="normal" fill="#2a2a2a" textLength="68.5" lengthAdjust="spacingAndGlyphs" stroke="#2a2a2a" stroke-width="0.9">HSP27</text>
<path d="M1217.2 1257.62 L1223.18 1257.19 L1229.17 1256.87 L1235.15 1256.65 L1241.13 1256.83 L1247.12 1256.46 L1253.1 1257.19 L1253.1 1262.5 L1247.12 1262.79 L1241.13 1262.3 L1235.15 1262.94 L1229.17 1262.82 L1223.18 1262.9 L1217.2 1262 Z" fill="rgb(0,0,0)" stroke="rgb(0,0,0)" stroke-width="1.6" stroke-linejoin="round" filter="url(#bl1_3)"/>
<path d="M1267.7 1258.74 L1274.08 1258.39 L1280.47 1258.02 L1286.85 1257.94 L1293.23 1257.87 L1299.62 1258.87 L1306 1259.75 L1306 1264.52 L1299.62 1264.58 L1293.23 1264.97 L1286.85 1264.83 L1280.47 1264.79 L1274.08 1264.38 L1267.7 1263.29 Z" fill="rgb(0,0,0)" stroke="rgb(0,0,0)" stroke-width="1.6" stroke-linejoin="round" filter="url(#bl1_3)"/>
<path d="M1322.2 1258.47 L1328.32 1258.64 L1334.43 1258.24 L1340.55 1258.66 L1346.67 1259.35 L1352.78 1259.92 L1358.9 1261.29 L1358.9 1266.6 L1352.78 1266.31 L1346.67 1265.81 L1340.55 1265.73 L1334.43 1265.54 L1328.32 1264.46 L1322.2 1263.48 Z" fill="rgb(51,51,51)" stroke="rgb(51,51,51)" stroke-width="1.6" stroke-linejoin="round" filter="url(#bl1_3)"/>
<path d="M1375.9 1260.38 L1381.73 1259.83 L1387.57 1258.78 L1393.4 1258.01 L1399.23 1257.29 L1405.07 1257.53 L1410.9 1258.07 L1410.9 1262.32 L1405.07 1263.15 L1399.23 1264.22 L1393.4 1264.62 L1387.57 1265.36 L1381.73 1265.67 L1375.9 1265.67 Z" fill="rgb(13,13,13)" stroke="rgb(13,13,13)" stroke-width="1.6" stroke-linejoin="round" filter="url(#bl1_3)"/>
<path d="M1428 1258.5 L1434.12 1257.57 L1440.23 1256.93 L1446.35 1256.47 L1452.47 1256.15 L1458.58 1255.26 L1464.7 1256.05 L1464.7 1261.37 L1458.58 1261.99 L1452.47 1261.73 L1446.35 1262.21 L1440.23 1263.01 L1434.12 1263.26 L1428 1262.7 Z" fill="rgb(38,38,38)" stroke="rgb(38,38,38)" stroke-width="1.6" stroke-linejoin="round" filter="url(#bl1_3)"/>
<path d="M1481.7 1255.94 L1487.53 1255.29 L1493.37 1255.18 L1499.2 1254.48 L1505.03 1254.08 L1510.87 1253.73 L1516.7 1255.37 L1516.7 1259.74 L1510.87 1261.04 L1505.03 1260.93 L1499.2 1260.91 L1493.37 1261.06 L1487.53 1261.68 L1481.7 1261.07 Z" fill="rgb(25,25,25)" stroke="rgb(25,25,25)" stroke-width="1.6" stroke-linejoin="round" filter="url(#bl1_3)"/>
<path d="M1531.4 1255.24 L1537.23 1253.88 L1543.07 1253.22 L1548.9 1253.48 L1554.73 1252.57 L1560.57 1252.21 L1566.4 1253.04 L1566.4 1258.1 L1560.57 1259.08 L1554.73 1259.26 L1548.9 1259.42 L1543.07 1260.52 L1537.23 1260.94 L1531.4 1259.76 Z" fill="rgb(38,38,38)" stroke="rgb(38,38,38)" stroke-width="1.6" stroke-linejoin="round" filter="url(#bl1_3)"/>
<path d="M1582.6 1252.8 L1588.03 1252.5 L1593.47 1252.03 L1598.9 1251.73 L1604.33 1252.19 L1609.77 1252.15 L1615.2 1252.57 L1615.2 1257.99 L1609.77 1257.94 L1604.33 1257.74 L1598.9 1258.5 L1593.47 1258.76 L1588.03 1258.37 L1582.6 1257.84 Z" fill="rgb(38,38,38)" stroke="rgb(38,38,38)" stroke-width="1.6" stroke-linejoin="round" filter="url(#bl1_3)"/>
<path d="M1630.5 1253.67 L1636.9 1252.94 L1643.3 1253.12 L1649.7 1253.05 L1656.1 1252.3 L1662.5 1253.05 L1668.9 1253.49 L1668.9 1259 L1662.5 1259.15 L1656.1 1259.6 L1649.7 1258.98 L1643.3 1259.64 L1636.9 1259.91 L1630.5 1258.87 Z" fill="rgb(0,0,0)" stroke="rgb(0,0,0)" stroke-width="1.6" stroke-linejoin="round" filter="url(#bl1_3)"/>
<path d="M1683.5 1254.58 L1689.88 1253.73 L1696.27 1253.7 L1702.65 1253.01 L1709.03 1253.24 L1715.42 1253.53 L1721.8 1254.35 L1721.8 1258.89 L1715.42 1259.1 L1709.03 1259.3 L1702.65 1259.81 L1696.27 1259.49 L1689.88 1259.72 L1683.5 1258.69 Z" fill="url(#g20)" stroke="url(#g20)" stroke-width="1.6" stroke-linejoin="round" filter="url(#bl1_3)"/>
<path d="M1737.2 1253.76 L1743.58 1253.17 L1749.97 1253.32 L1756.35 1252.87 L1762.73 1252.06 L1769.12 1251.7 L1775.5 1253.14 L1775.5 1257.33 L1769.12 1258.77 L1762.73 1258.54 L1756.35 1258.39 L1749.97 1258.8 L1743.58 1259.39 L1737.2 1258.82 Z" fill="url(#g21)" stroke="url(#g21)" stroke-width="1.6" stroke-linejoin="round" filter="url(#bl1_3)"/>
<path d="M1789.2 1253.96 L1795.58 1252.55 L1801.97 1252.15 L1808.35 1251.66 L1814.73 1250.79 L1821.12 1250.3 L1827.5 1250.91 L1827.5 1256.17 L1821.12 1257.1 L1814.73 1257.53 L1808.35 1257.76 L1801.97 1258.85 L1795.58 1259.69 L1789.2 1259.11 Z" fill="url(#g22)" stroke="url(#g22)" stroke-width="1.6" stroke-linejoin="round" filter="url(#bl1_3)"/>
<path d="M1217.2 1289.85 L1223.18 1288.76 L1229.17 1289.62 L1235.15 1288.17 L1241.13 1288.64 L1247.12 1288.58 L1253.1 1290.23 L1253.1 1297.59 L1247.12 1298.39 L1241.13 1298.26 L1235.15 1298.9 L1229.17 1298.2 L1223.18 1299.09 L1217.2 1297.84 Z" fill="url(#g23)" stroke="url(#g23)" stroke-width="2.38" stroke-linejoin="round" filter="url(#bl2_2)"/>
<path d="M1267.7 1292.45 L1274.08 1291.51 L1280.47 1290.33 L1286.85 1290.56 L1293.23 1291.05 L1299.62 1290.76 L1306 1291.93 L1306 1298.88 L1299.62 1299.66 L1293.23 1299.25 L1286.85 1300.16 L1280.47 1300.86 L1274.08 1299.78 L1267.7 1298.7 Z" fill="url(#g24)" stroke="url(#g24)" stroke-width="2.38" stroke-linejoin="round" filter="url(#bl2_2)"/>
<path d="M1322.2 1292.32 L1328.32 1292.25 L1334.43 1291.85 L1340.55 1291.09 L1346.67 1290.73 L1352.78 1291.17 L1358.9 1292.25 L1358.9 1300.17 L1352.78 1300.84 L1346.67 1301.19 L1340.55 1301.3 L1334.43 1300.97 L1328.32 1300.62 L1322.2 1300.14 Z" fill="url(#g25)" stroke="url(#g25)" stroke-width="2.38" stroke-linejoin="round" filter="url(#bl2_2)"/>
<path d="M1375.9 1293.3 L1381.73 1291.94 L1387.57 1291.51 L1393.4 1291.56 L1399.23 1291.56 L1405.07 1291.43 L1410.9 1292.77 L1410.9 1299.99 L1405.07 1300.84 L1399.23 1300.34 L1393.4 1300.54 L1387.57 1301.09 L1381.73 1300.91 L1375.9 1299.48 Z" fill="url(#g26)" stroke="url(#g26)" stroke-width="2.38" stroke-linejoin="round" filter="url(#bl2_2)"/>
<path d="M1428 1291.73 L1434.12 1290.61 L1440.23 1291.11 L1446.35 1290.43 L1452.47 1290.76 L1458.58 1290.68 L1464.7 1291.48 L1464.7 1299.39 L1458.58 1299.76 L1452.47 1299.57 L1446.35 1300.06 L1440.23 1299.86 L1434.12 1300.68 L1428 1299.39 Z" fill="url(#g27)" stroke="url(#g27)" stroke-width="2.38" stroke-linejoin="round" filter="url(#bl2_2)"/>
<path d="M1481.7 1290.22 L1487.53 1289 L1493.37 1288.68 L1499.2 1289.3 L1505.03 1288.56 L1510.87 1288.3 L1516.7 1290.51 L1516.7 1297.26 L1510.87 1298.79 L1505.03 1298.36 L1499.2 1298.1 L1493.37 1298.97 L1487.53 1298.85 L1481.7 1297.34 Z" fill="url(#g28)" stroke="url(#g28)" stroke-width="2.38" stroke-linejoin="round" filter="url(#bl2_2)"/>
<path d="M1531.4 1290.32 L1537.23 1289.27 L1543.07 1289.46 L1548.9 1289.14 L1554.73 1288.45 L1560.57 1288.47 L1566.4 1290.77 L1566.4 1296.93 L1560.57 1298.56 L1554.73 1298.46 L1548.9 1298.26 L1543.07 1298.28 L1537.23 1298.63 L1531.4 1297.5 Z" fill="url(#g29)" stroke="url(#g29)" stroke-width="2.38" stroke-linejoin="round" filter="url(#bl2_2)"/>
<path d="M1582.6 1290.03 L1588.03 1289.36 L1593.47 1289.68 L1598.9 1288.6 L1604.33 1289.03 L1609.77 1288.73 L1615.2 1290.46 L1615.2 1297.01 L1609.77 1298.56 L1604.33 1297.89 L1598.9 1298.75 L1593.47 1297.94 L1588.03 1298.53 L1582.6 1297.77 Z" fill="rgb(178,178,178)" stroke="rgb(178,178,178)" stroke-width="2.38" stroke-linejoin="round" filter="url(#bl2_2)"/>
<path d="M1630.5 1288.5 L1636.9 1287.06 L1643.3 1287.07 L1649.7 1286.71 L1656.1 1286.32 L1662.5 1287.22 L1668.9 1288.79 L1668.9 1295.51 L1662.5 1296.67 L1656.1 1297.2 L1649.7 1296.87 L1643.3 1296.96 L1636.9 1297.44 L1630.5 1295.56 Z" fill="url(#g30)" stroke="url(#g30)" stroke-width="2.38" stroke-linejoin="round" filter="url(#bl2_2)"/>
<path d="M1683.5 1289.22 L1689.88 1288.71 L1696.27 1287.88 L1702.65 1287.68 L1709.03 1287.13 L1715.42 1287.38 L1721.8 1289.43 L1721.8 1295.94 L1715.42 1297.42 L1709.03 1297.58 L1702.65 1297.35 L1696.27 1297.6 L1689.88 1296.98 L1683.5 1296.38 Z" fill="url(#g31)" stroke="url(#g31)" stroke-width="2.38" stroke-linejoin="round" filter="url(#bl2_2)"/>
<path d="M1737.2 1289.66 L1743.58 1287.56 L1749.97 1287.69 L1756.35 1288.52 L1762.73 1287.06 L1769.12 1287.6 L1775.5 1288.73 L1775.5 1296.86 L1769.12 1297.41 L1762.73 1297.66 L1756.35 1296.62 L1749.97 1297.54 L1743.58 1298.11 L1737.2 1295.76 Z" fill="url(#g32)" stroke="url(#g32)" stroke-width="2.38" stroke-linejoin="round" filter="url(#bl2_2)"/>
<path d="M1789.2 1289.28 L1795.58 1288.08 L1801.97 1287.97 L1808.35 1287.57 L1814.73 1287.91 L1821.12 1287.79 L1827.5 1289.2 L1827.5 1296.65 L1821.12 1297.61 L1814.73 1297.39 L1808.35 1298.07 L1801.97 1298 L1795.58 1298.2 L1789.2 1296.89 Z" fill="url(#g33)" stroke="url(#g33)" stroke-width="2.38" stroke-linejoin="round" filter="url(#bl2_2)"/>
<text x="1221.62" y="1347" font-size="23.26" font-weight="normal" fill="#111" textLength="24.96" lengthAdjust="spacingAndGlyphs" stroke="#111" stroke-width="0.85">XSN4</text>
<text x="1277.92" y="1347" font-size="23.26" font-weight="normal" fill="#111" textLength="24.96" lengthAdjust="spacingAndGlyphs" stroke="#111" stroke-width="0.85">XSN8</text>
<text x="1328.3" y="1347" font-size="23.26" font-weight="normal" fill="#111" textLength="28.6" lengthAdjust="spacingAndGlyphs" stroke="#111" stroke-width="0.85">XTB4</text>
<text x="1380" y="1347" font-size="23.26" font-weight="normal" fill="#111" textLength="28.6" lengthAdjust="spacingAndGlyphs" stroke="#111" stroke-width="0.85">XTB8</text>
<text x="1432.72" y="1347" font-size="23.26" font-weight="normal" fill="#111" textLength="27.56" lengthAdjust="spacingAndGlyphs" stroke="#111" stroke-width="0.85">OSN4</text>
<text x="1484.56" y="1347" font-size="23.26" font-weight="normal" fill="#111" textLength="28.08" lengthAdjust="spacingAndGlyphs" stroke="#111" stroke-width="0.85">OSN8</text>
<text x="1534.86" y="1347" font-size="23.26" font-weight="normal" fill="#111" textLength="30.68" lengthAdjust="spacingAndGlyphs" stroke="#111" stroke-width="0.85">OTB4</text>
<text x="1586.56" y="1347" font-size="23.26" font-weight="normal" fill="#111" textLength="30.68" lengthAdjust="spacingAndGlyphs" stroke="#111" stroke-width="0.85">OTB8</text>
<text x="1637.4" y="1347" font-size="23.26" font-weight="normal" fill="#111" textLength="31.2" lengthAdjust="spacingAndGlyphs" stroke="#111" stroke-width="0.85">SCSN4</text>
<text x="1689" y="1347" font-size="23.26" font-weight="normal" fill="#111" textLength="31.2" lengthAdjust="spacingAndGlyphs" stroke="#111" stroke-width="0.85">SCSN8</text>
<text x="1740.48" y="1347" font-size="23.26" font-weight="normal" fill="#111" textLength="34.84" lengthAdjust="spacingAndGlyphs" stroke="#111" stroke-width="0.85">SCTB4</text>
<text x="1792.44" y="1347" font-size="23.26" font-weight="normal" fill="#111" textLength="34.32" lengthAdjust="spacingAndGlyphs" stroke="#111" stroke-width="0.85">SCTB8</text>
<line x1="1263.6" y1="1319.9" x2="1263.6" y2="1356" stroke="#8c8c8c" stroke-width="1.9"/>
<line x1="1316.2" y1="1319.9" x2="1316.2" y2="1356" stroke="#8c8c8c" stroke-width="1.9"/>
<line x1="1367.9" y1="1319.9" x2="1367.9" y2="1356" stroke="#8c8c8c" stroke-width="1.9"/>
<line x1="1419.5" y1="1319.9" x2="1419.5" y2="1356" stroke="#8c8c8c" stroke-width="1.9"/>
<line x1="1470.9" y1="1319.9" x2="1470.9" y2="1356" stroke="#8c8c8c" stroke-width="1.9"/>
<line x1="1523.3" y1="1319.9" x2="1523.3" y2="1356" stroke="#8c8c8c" stroke-width="1.9"/>
<line x1="1679.3" y1="1319.9" x2="1679.3" y2="1356" stroke="#8c8c8c" stroke-width="1.9"/>
<line x1="1732" y1="1319.9" x2="1732" y2="1356" stroke="#8c8c8c" stroke-width="1.9"/>
<line x1="1783.7" y1="1319.9" x2="1783.7" y2="1356" stroke="#8c8c8c" stroke-width="1.9"/>
<line x1="1834.3" y1="1319.9" x2="1834.3" y2="1356" stroke="#8c8c8c" stroke-width="1.9"/>
<line x1="1201.6" y1="1319.9" x2="1835.3" y2="1319.9" stroke="#8c8c8c" stroke-width="3.4"/>
<line x1="1201.6" y1="1356" x2="1835.3" y2="1356" stroke="#333" stroke-width="3.4"/>
</g>
<text x="23.3" y="1413" font-size="34.01" font-weight="bold" fill="#000" textLength="40.7" lengthAdjust="spacingAndGlyphs">B3</text>
<g id="B3" filter="url(#bl0_85)">
<line x1="153.2" y1="1695.92" x2="774.4" y2="1695.92" stroke="#dcdcdc" stroke-width="2.2"/>
<line x1="153.2" y1="1649.24" x2="774.4" y2="1649.24" stroke="#dcdcdc" stroke-width="2.2"/>
<line x1="153.2" y1="1602.56" x2="774.4" y2="1602.56" stroke="#dcdcdc" stroke-width="2.2"/>
<line x1="153.2" y1="1555.88" x2="774.4" y2="1555.88" stroke="#dcdcdc" stroke-width="2.2"/>
<line x1="153.2" y1="1509.2" x2="774.4" y2="1509.2" stroke="#dcdcdc" stroke-width="2.2"/>
<line x1="153.2" y1="1462.52" x2="774.4" y2="1462.52" stroke="#dcdcdc" stroke-width="2.2"/>
<line x1="149.2" y1="1719.26" x2="152.2" y2="1719.26" stroke="#c8c8c8" stroke-width="1.2"/>
<line x1="149.2" y1="1672.58" x2="152.2" y2="1672.58" stroke="#c8c8c8" stroke-width="1.2"/>
<line x1="149.2" y1="1625.9" x2="152.2" y2="1625.9" stroke="#c8c8c8" stroke-width="1.2"/>
<line x1="149.2" y1="1579.22" x2="152.2" y2="1579.22" stroke="#c8c8c8" stroke-width="1.2"/>
<line x1="149.2" y1="1532.54" x2="152.2" y2="1532.54" stroke="#c8c8c8" stroke-width="1.2"/>
<line x1="149.2" y1="1485.86" x2="152.2" y2="1485.86" stroke="#c8c8c8" stroke-width="1.2"/>
<line x1="149.2" y1="1439.18" x2="152.2" y2="1439.18" stroke="#c8c8c8" stroke-width="1.2"/>
<line x1="189.8" y1="1592.6" x2="189.8" y2="1602.4" stroke="#626262" stroke-width="2.4"/>
<path d="M186.4 1591 L193.2 1591 L191.1 1594.2 L188.5 1594.2 Z" fill="#2e2e2e"/>
<line x1="189.8" y1="1632.1" x2="189.8" y2="1650" stroke="#626262" stroke-width="2.4"/>
<path d="M186.4 1651.6 L193.2 1651.6 L191.1 1648.4 L188.5 1648.4 Z" fill="#2e2e2e"/>
<rect x="182.8" y="1602.4" width="14" height="29.7" fill="#e0532f" stroke="#6b2a18" stroke-width="1.5" rx="1.2"/>
<line x1="183.5" y1="1612.8" x2="196.1" y2="1612.8" stroke="#161010" stroke-width="3.9"/>
<line x1="237.1" y1="1604.2" x2="237.1" y2="1612.8" stroke="#626262" stroke-width="2.4"/>
<path d="M233.7 1602.6 L240.5 1602.6 L238.4 1605.8 L235.8 1605.8 Z" fill="#2e2e2e"/>
<line x1="237.1" y1="1629.6" x2="237.1" y2="1637.6" stroke="#626262" stroke-width="2.4"/>
<path d="M233.7 1639.2 L240.5 1639.2 L238.4 1636 L235.8 1636 Z" fill="#2e2e2e"/>
<rect x="230.1" y="1612.8" width="14" height="16.8" fill="#e0532f" stroke="#6b2a18" stroke-width="1.5" rx="1.2"/>
<line x1="230.8" y1="1620.5" x2="243.4" y2="1620.5" stroke="#161010" stroke-width="3.9"/>
<rect x="277.6" y="1610.2" width="14" height="7.2" fill="#e0532f" stroke="#6b2a18" stroke-width="1.5" rx="1.2"/>
<line x1="278.3" y1="1614" x2="290.9" y2="1614" stroke="#161010" stroke-width="3.9"/>
<circle cx="284.6" cy="1533.2" r="1.9" fill="#e0532f" opacity="0.8"/>
<circle cx="284.6" cy="1670.9" r="1.9" fill="#e0532f" opacity="0.8"/>
<line x1="331.9" y1="1529.8" x2="331.9" y2="1564.2" stroke="#626262" stroke-width="2.4"/>
<path d="M328.5 1528.2 L335.3 1528.2 L333.2 1531.4 L330.6 1531.4 Z" fill="#2e2e2e"/>
<line x1="331.9" y1="1596" x2="331.9" y2="1632.4" stroke="#626262" stroke-width="2.4"/>
<path d="M328.5 1634 L335.3 1634 L333.2 1630.8 L330.6 1630.8 Z" fill="#2e2e2e"/>
<rect x="324.9" y="1564.2" width="14" height="31.8" fill="#e0532f" stroke="#6b2a18" stroke-width="1.5" rx="1.2"/>
<line x1="325.6" y1="1583.1" x2="338.2" y2="1583.1" stroke="#161010" stroke-width="3.9"/>
<line x1="392.6" y1="1540.2" x2="392.6" y2="1556" stroke="#626262" stroke-width="2.4"/>
<path d="M389.2 1538.6 L396 1538.6 L393.9 1541.8 L391.3 1541.8 Z" fill="#2e2e2e"/>
<line x1="392.6" y1="1592.6" x2="392.6" y2="1612.3" stroke="#626262" stroke-width="2.4"/>
<path d="M389.2 1613.9 L396 1613.9 L393.9 1610.7 L391.3 1610.7 Z" fill="#2e2e2e"/>
<rect x="385.6" y="1556" width="14" height="36.6" fill="#5b7943" stroke="#2f3f22" stroke-width="1.5" rx="1.2"/>
<line x1="386.3" y1="1572.7" x2="398.9" y2="1572.7" stroke="#161010" stroke-width="3.9"/>
<line x1="440.3" y1="1505.8" x2="440.3" y2="1537.9" stroke="#626262" stroke-width="2.4"/>
<path d="M436.9 1504.2 L443.7 1504.2 L441.6 1507.4 L439 1507.4 Z" fill="#2e2e2e"/>
<line x1="440.3" y1="1581.8" x2="440.3" y2="1593.7" stroke="#626262" stroke-width="2.4"/>
<path d="M436.9 1595.3 L443.7 1595.3 L441.6 1592.1 L439 1592.1 Z" fill="#2e2e2e"/>
<rect x="433.3" y="1537.9" width="14" height="43.9" fill="#5b7943" stroke="#2f3f22" stroke-width="1.5" rx="1.2"/>
<line x1="434" y1="1569.4" x2="446.6" y2="1569.4" stroke="#161010" stroke-width="3.9"/>
<line x1="487.5" y1="1593.4" x2="487.5" y2="1607.1" stroke="#626262" stroke-width="2.4"/>
<path d="M484.1 1608.7 L490.9 1608.7 L488.8 1605.5 L486.2 1605.5 Z" fill="#2e2e2e"/>
<rect x="480.5" y="1573.3" width="14" height="20.1" fill="#5b7943" stroke="#2f3f22" stroke-width="1.5" rx="1.2"/>
<line x1="481.2" y1="1576.1" x2="493.8" y2="1576.1" stroke="#161010" stroke-width="3.9"/>
<ellipse cx="487.5" cy="1513" rx="4" ry="3.2" fill="#3e5a2a"/>
<rect x="528.2" y="1602.4" width="14" height="45.2" fill="#5b7943" stroke="#2f3f22" stroke-width="1.5" rx="1.2"/>
<line x1="528.9" y1="1638.6" x2="541.5" y2="1638.6" stroke="#161010" stroke-width="3.9"/>
<circle cx="535.2" cy="1461.7" r="1.9" fill="#5b7943" opacity="0.8"/>
<line x1="595.4" y1="1551.8" x2="595.4" y2="1590" stroke="#626262" stroke-width="2.4"/>
<path d="M592 1550.2 L598.8 1550.2 L596.7 1553.4 L594.1 1553.4 Z" fill="#2e2e2e"/>
<line x1="595.4" y1="1637.3" x2="595.4" y2="1645.9" stroke="#626262" stroke-width="2.4"/>
<path d="M592 1647.5 L598.8 1647.5 L596.7 1644.3 L594.1 1644.3 Z" fill="#2e2e2e"/>
<rect x="588.4" y="1590" width="14" height="47.3" fill="#4f98e6" stroke="#2a4f80" stroke-width="1.5" rx="1.2"/>
<line x1="589.1" y1="1628.3" x2="601.7" y2="1628.3" stroke="#161010" stroke-width="3.9"/>
<line x1="642.9" y1="1618.9" x2="642.9" y2="1631.4" stroke="#626262" stroke-width="2.4"/>
<path d="M639.5 1617.3 L646.3 1617.3 L644.2 1620.5 L641.6 1620.5 Z" fill="#2e2e2e"/>
<line x1="642.9" y1="1657.2" x2="642.9" y2="1670.6" stroke="#626262" stroke-width="2.4"/>
<path d="M639.5 1672.2 L646.3 1672.2 L644.2 1669 L641.6 1669 Z" fill="#2e2e2e"/>
<rect x="635.9" y="1631.4" width="14" height="25.8" fill="#4f98e6" stroke="#2a4f80" stroke-width="1.5" rx="1.2"/>
<line x1="636.6" y1="1643.8" x2="649.2" y2="1643.8" stroke="#161010" stroke-width="3.9"/>
<line x1="690.2" y1="1590.5" x2="690.2" y2="1605" stroke="#626262" stroke-width="2.4"/>
<path d="M686.8 1588.9 L693.6 1588.9 L691.5 1592.1 L688.9 1592.1 Z" fill="#2e2e2e"/>
<rect x="683.2" y="1605" width="14" height="20.7" fill="#4f98e6" stroke="#2a4f80" stroke-width="1.5" rx="1.2"/>
<line x1="683.9" y1="1619.2" x2="696.5" y2="1619.2" stroke="#161010" stroke-width="3.9"/>
<ellipse cx="690.2" cy="1668.2" rx="4" ry="3.2" fill="#2f6fc0"/>
<line x1="738" y1="1547.4" x2="738" y2="1562.4" stroke="#626262" stroke-width="2.4"/>
<path d="M734.6 1545.8 L741.4 1545.8 L739.3 1549 L736.7 1549 Z" fill="#2e2e2e"/>
<line x1="738" y1="1617.4" x2="738" y2="1641.5" stroke="#626262" stroke-width="2.4"/>
<path d="M734.6 1643.1 L741.4 1643.1 L739.3 1639.9 L736.7 1639.9 Z" fill="#2e2e2e"/>
<rect x="731" y="1562.4" width="14" height="55" fill="#4f98e6" stroke="#2a4f80" stroke-width="1.5" rx="1.2"/>
<line x1="731.7" y1="1601.9" x2="744.3" y2="1601.9" stroke="#161010" stroke-width="3.9"/>
<line x1="152.2" y1="1419.1" x2="152.2" y2="1743.6" stroke="#a8a8a8" stroke-width="2.2"/>
<line x1="151.2" y1="1742.6" x2="774.4" y2="1742.6" stroke="#a8a8a8" stroke-width="2.4"/>
<text x="120.89" y="1748.2" font-size="12.8" font-weight="bold" fill="#000" textLength="24.91" lengthAdjust="spacingAndGlyphs" stroke="#000" stroke-width="0.25">.00</text>
<text x="120.89" y="1701.52" font-size="12.8" font-weight="bold" fill="#000" textLength="24.91" lengthAdjust="spacingAndGlyphs" stroke="#000" stroke-width="0.25">.20</text>
<text x="120.89" y="1654.84" font-size="12.8" font-weight="bold" fill="#000" textLength="24.91" lengthAdjust="spacingAndGlyphs" stroke="#000" stroke-width="0.25">.40</text>
<text x="120.89" y="1608.16" font-size="12.8" font-weight="bold" fill="#000" textLength="24.91" lengthAdjust="spacingAndGlyphs" stroke="#000" stroke-width="0.25">.60</text>
<text x="120.89" y="1561.48" font-size="12.8" font-weight="bold" fill="#000" textLength="24.91" lengthAdjust="spacingAndGlyphs" stroke="#000" stroke-width="0.25">.80</text>
<text x="110.93" y="1514.8" font-size="12.8" font-weight="bold" fill="#000" textLength="34.87" lengthAdjust="spacingAndGlyphs" stroke="#000" stroke-width="0.25">1.00</text>
<text x="110.93" y="1468.12" font-size="12.8" font-weight="bold" fill="#000" textLength="34.87" lengthAdjust="spacingAndGlyphs" stroke="#000" stroke-width="0.25">1.20</text>
<text transform="translate(91.3 1606.8) rotate(-90) scale(1 1)" x="0" y="0" font-size="23.69" font-weight="bold" fill="#000" textLength="52.6" lengthAdjust="spacingAndGlyphs">HSP90</text>
<text transform="translate(195 1748.6) rotate(90) scale(1 1.74)" x="0" y="0" font-size="11.5" font-weight="bold" fill="#000" stroke="#000" stroke-width="0.45" textLength="30.72" lengthAdjust="spacingAndGlyphs">XSN4</text>
<text transform="translate(240.6 1748.6) rotate(90) scale(1 1.74)" x="0" y="0" font-size="11.5" font-weight="bold" fill="#000" stroke="#000" stroke-width="0.45" textLength="30.72" lengthAdjust="spacingAndGlyphs">XSN8</text>
<text transform="translate(288.7 1748.6) rotate(90) scale(1 1.74)" x="0" y="0" font-size="11.5" font-weight="bold" fill="#000" stroke="#000" stroke-width="0.45" textLength="36" lengthAdjust="spacingAndGlyphs">XTB4</text>
<text transform="translate(335.5 1748.6) rotate(90) scale(1 1.74)" x="0" y="0" font-size="11.5" font-weight="bold" fill="#000" stroke="#000" stroke-width="0.45" textLength="36" lengthAdjust="spacingAndGlyphs">XTB8</text>
<text transform="translate(382.9 1748.6) rotate(90) scale(1 1.74)" x="0" y="0" font-size="11.5" font-weight="bold" fill="#000" stroke="#000" stroke-width="0.45" textLength="30.72" lengthAdjust="spacingAndGlyphs">OSN4</text>
<text transform="translate(429.6 1748.6) rotate(90) scale(1 1.74)" x="0" y="0" font-size="11.5" font-weight="bold" fill="#000" stroke="#000" stroke-width="0.45" textLength="30.72" lengthAdjust="spacingAndGlyphs">OSN8</text>
<text transform="translate(476 1748.6) rotate(90) scale(1 1.74)" x="0" y="0" font-size="11.5" font-weight="bold" fill="#000" stroke="#000" stroke-width="0.45" textLength="36" lengthAdjust="spacingAndGlyphs">OTB4</text>
<text transform="translate(524.4 1748.6) rotate(90) scale(1 1.74)" x="0" y="0" font-size="11.5" font-weight="bold" fill="#000" stroke="#000" stroke-width="0.45" textLength="36" lengthAdjust="spacingAndGlyphs">OTB8</text>
<text transform="translate(571.5 1748.6) rotate(90) scale(1 1.74)" x="0" y="0" font-size="11.5" font-weight="bold" fill="#000" stroke="#000" stroke-width="0.45" textLength="41.47" lengthAdjust="spacingAndGlyphs">SCSN4</text>
<text transform="translate(618.9 1748.6) rotate(90) scale(1 1.74)" x="0" y="0" font-size="11.5" font-weight="bold" fill="#000" stroke="#000" stroke-width="0.45" textLength="41.47" lengthAdjust="spacingAndGlyphs">SCSN8</text>
<text transform="translate(667.4 1748.6) rotate(90) scale(1 1.74)" x="0" y="0" font-size="11.5" font-weight="bold" fill="#000" stroke="#000" stroke-width="0.45" textLength="45.12" lengthAdjust="spacingAndGlyphs">SCTB4</text>
<text transform="translate(713.8 1748.6) rotate(90) scale(1 1.74)" x="0" y="0" font-size="11.5" font-weight="bold" fill="#000" stroke="#000" stroke-width="0.45" textLength="45.12" lengthAdjust="spacingAndGlyphs">SCTB8</text>
<text x="192" y="1819.5" font-size="15.26" font-weight="bold" fill="#000" textLength="543.8" lengthAdjust="spacingAndGlyphs" stroke="#000" stroke-width="0.35">Pretreatment, experimental stress and time post CHI</text>
<text x="781.9" y="1436.5" font-size="15.12" font-weight="bold" fill="#000" textLength="116.2" lengthAdjust="spacingAndGlyphs">Pre-treatment</text>
<rect x="811.6" y="1446.7" width="15.5" height="10.6" fill="#e0532f" stroke="#3a3a3a" stroke-width="1.1"/>
<text x="832.2" y="1457" font-size="13.15" font-weight="bold" fill="#000" textLength="34.9" lengthAdjust="spacingAndGlyphs">ATX</text>
<rect x="811.6" y="1464" width="15.5" height="10.1" fill="#5b7943" stroke="#3a3a3a" stroke-width="1.1"/>
<text x="832.2" y="1473.8" font-size="12.58" font-weight="bold" fill="#000" textLength="27.5" lengthAdjust="spacingAndGlyphs">OIL</text>
<rect x="811.6" y="1481" width="15.5" height="10.4" fill="#4f98e6" stroke="#3a3a3a" stroke-width="1.1"/>
<text x="832.2" y="1491.1" font-size="12.92" font-weight="bold" fill="#000" textLength="25" lengthAdjust="spacingAndGlyphs">SC</text>
<rect x="170" y="1832" width="583" height="68" fill="#fafafa" filter="url(#bl3)"/>
<text x="86.5" y="1857.5" font-size="23.26" font-weight="normal" fill="#2a2a2a" textLength="52.5" lengthAdjust="spacingAndGlyphs" stroke="#2a2a2a" stroke-width="0.9">Actin</text>
<text x="80.5" y="1892.5" font-size="23.26" font-weight="normal" fill="#2a2a2a" textLength="65.5" lengthAdjust="spacingAndGlyphs" stroke="#2a2a2a" stroke-width="0.9">HSP90</text>
<rect x="178" y="1868" width="38" height="30" fill="rgba(0,0,0,0.07)" filter="url(#bl2_5)"/>
<rect x="224" y="1868" width="41" height="30" fill="rgba(0,0,0,0.07)" filter="url(#bl2_5)"/>
<rect x="273" y="1868" width="40" height="30" fill="rgba(0,0,0,0.06)" filter="url(#bl2_5)"/>
<rect x="324" y="1867" width="38" height="31" fill="rgba(0,0,0,0.14)" filter="url(#bl2_5)"/>
<rect x="372" y="1868" width="39" height="30" fill="rgba(0,0,0,0.06)" filter="url(#bl2_5)"/>
<rect x="420" y="1868" width="39" height="30" fill="rgba(0,0,0,0.07)" filter="url(#bl2_5)"/>
<rect x="468" y="1868" width="38" height="30" fill="rgba(0,0,0,0.08)" filter="url(#bl2_5)"/>
<rect x="514" y="1867" width="43" height="32" fill="rgba(0,0,0,0.12)" filter="url(#bl2_5)"/>
<rect x="650" y="1867" width="102" height="28" fill="rgba(0,0,0,0.12)" filter="url(#bl2_5)"/>
<path d="M180.8 1847.65 L186.23 1846.96 L191.67 1846.73 L197.1 1846.79 L202.53 1846.48 L207.97 1846.65 L213.4 1847.16 L213.4 1852.49 L207.97 1852.56 L202.53 1852.62 L197.1 1852.54 L191.67 1852.98 L186.23 1853.07 L180.8 1852.23 Z" fill="rgb(0,0,0)" stroke="rgb(0,0,0)" stroke-width="1.6" stroke-linejoin="round" filter="url(#bl1_3)"/>
<path d="M227.3 1848.68 L233.13 1848.46 L238.97 1848.35 L244.8 1847.98 L250.63 1847.98 L256.47 1848.68 L262.3 1849.61 L262.3 1855.06 L256.47 1854.98 L250.63 1855.27 L244.8 1855.29 L238.97 1855.08 L233.13 1854.78 L227.3 1853.91 Z" fill="rgb(0,0,0)" stroke="rgb(0,0,0)" stroke-width="1.6" stroke-linejoin="round" filter="url(#bl1_3)"/>
<path d="M276.9 1848.28 L282.47 1848.24 L288.03 1849.27 L293.6 1849.2 L299.17 1849.88 L304.73 1850.99 L310.3 1852.59 L310.3 1856.71 L304.73 1856.64 L299.17 1855.97 L293.6 1855.61 L288.03 1854.78 L282.47 1854.59 L276.9 1853.13 Z" fill="url(#g34)" stroke="url(#g34)" stroke-width="1.6" stroke-linejoin="round" filter="url(#bl1_3)"/>
<path d="M327.2 1851.77 L332.52 1850.4 L337.83 1850.22 L343.15 1849.27 L348.47 1848.11 L353.78 1848.15 L359.1 1848.1 L359.1 1853.16 L353.78 1854.08 L348.47 1855.06 L343.15 1855.48 L337.83 1856.16 L332.52 1857.74 L327.2 1857.25 Z" fill="rgb(25,25,25)" stroke="rgb(25,25,25)" stroke-width="1.6" stroke-linejoin="round" filter="url(#bl1_3)"/>
<path d="M374.5 1848.99 L380.2 1847.88 L385.9 1847.12 L391.6 1846.44 L397.3 1845.62 L403 1845.59 L408.7 1846.4 L408.7 1850.6 L403 1851.59 L397.3 1852.51 L391.6 1853.01 L385.9 1853.84 L380.2 1854.19 L374.5 1853.68 Z" fill="rgb(38,38,38)" stroke="rgb(38,38,38)" stroke-width="1.6" stroke-linejoin="round" filter="url(#bl1_3)"/>
<path d="M423.3 1846.4 L428.75 1845.89 L434.2 1845.19 L439.65 1845.26 L445.1 1844.5 L450.55 1844.37 L456 1845.47 L456 1850.54 L450.55 1851.39 L445.1 1851.27 L439.65 1851.05 L434.2 1852.12 L428.75 1851.87 L423.3 1851.29 Z" fill="rgb(25,25,25)" stroke="rgb(25,25,25)" stroke-width="1.6" stroke-linejoin="round" filter="url(#bl1_3)"/>
<path d="M470.5 1845.69 L475.93 1844.45 L481.37 1844.1 L486.8 1843.54 L492.23 1843.67 L497.67 1843.53 L503.1 1844.1 L503.1 1848.29 L497.67 1849.08 L492.23 1849.18 L486.8 1850.27 L481.37 1850.93 L475.93 1851.36 L470.5 1850.52 Z" fill="rgb(25,25,25)" stroke="rgb(25,25,25)" stroke-width="1.6" stroke-linejoin="round" filter="url(#bl1_3)"/>
<path d="M517.7 1843.39 L522.75 1842.53 L527.8 1842.91 L532.85 1842.08 L537.9 1842.21 L542.95 1841.87 L548 1843.03 L548 1848.31 L542.95 1848.76 L537.9 1848.31 L532.85 1848.73 L527.8 1848.38 L522.75 1848.97 L517.7 1847.91 Z" fill="rgb(38,38,38)" stroke="rgb(38,38,38)" stroke-width="1.6" stroke-linejoin="round" filter="url(#bl1_3)"/>
<path d="M565.8 1844.01 L571.62 1843.46 L577.43 1843.74 L583.25 1842.92 L589.07 1843.33 L594.88 1843.25 L600.7 1844.64 L600.7 1848.8 L594.88 1849.77 L589.07 1849.6 L583.25 1850.11 L577.43 1850.01 L571.62 1850.44 L565.8 1849.48 Z" fill="rgb(0,0,0)" stroke="rgb(0,0,0)" stroke-width="1.6" stroke-linejoin="round" filter="url(#bl1_3)"/>
<path d="M613.8 1844.68 L619.75 1843.36 L625.7 1843.47 L631.65 1843.33 L637.6 1842.97 L643.55 1843.57 L649.5 1844.7 L649.5 1848.95 L643.55 1849.79 L637.6 1849.96 L631.65 1849.72 L625.7 1850.31 L619.75 1850.52 L613.8 1848.76 Z" fill="url(#g35)" stroke="url(#g35)" stroke-width="1.6" stroke-linejoin="round" filter="url(#bl1_3)"/>
<path d="M663.4 1844.45 L668.83 1843.58 L674.27 1842.72 L679.7 1842.4 L685.13 1842.46 L690.57 1842.06 L696 1843.28 L696 1847.8 L690.57 1849.13 L685.13 1848.71 L679.7 1849.35 L674.27 1849.83 L668.83 1849.57 L663.4 1848.81 Z" fill="url(#g36)" stroke="url(#g36)" stroke-width="1.6" stroke-linejoin="round" filter="url(#bl1_3)"/>
<path d="M709.9 1844.16 L715.47 1842.79 L721.03 1842.35 L726.6 1841.34 L732.17 1840.93 L737.73 1840.1 L743.3 1840.78 L743.3 1845.91 L737.73 1846.96 L732.17 1846.99 L726.6 1847.8 L721.03 1848.09 L715.47 1849.06 L709.9 1848.61 Z" fill="url(#g37)" stroke="url(#g37)" stroke-width="1.6" stroke-linejoin="round" filter="url(#bl1_3)"/>
<path d="M180.8 1880.27 L186.23 1880.39 L191.67 1880.05 L197.1 1879.71 L202.53 1879.28 L207.97 1879.88 L213.4 1880.88 L213.4 1884.91 L207.97 1885.15 L202.53 1885.65 L197.1 1885.48 L191.67 1885.6 L186.23 1885.51 L180.8 1885.23 Z" fill="url(#g38)" stroke="url(#g38)" stroke-width="1.5" stroke-linejoin="round" filter="url(#bl1_6)"/>
<path d="M227.3 1882.43 L233.13 1881.62 L238.97 1881.73 L244.8 1881.43 L250.63 1881.71 L256.47 1882.04 L262.3 1883.23 L262.3 1887.79 L256.47 1888.25 L250.63 1888.12 L244.8 1888.25 L238.97 1888.16 L233.13 1888.21 L227.3 1886.63 Z" fill="url(#g39)" stroke="url(#g39)" stroke-width="1.5" stroke-linejoin="round" filter="url(#bl1_6)"/>
<path d="M276.9 1883.56 L282.47 1883.56 L288.03 1883.34 L293.6 1883.5 L299.17 1883.92 L304.73 1883.6 L310.3 1884.77 L310.3 1889.82 L304.73 1890.18 L299.17 1889.11 L293.6 1889.66 L288.03 1889.79 L282.47 1889.47 L276.9 1888.71 Z" fill="url(#g40)" stroke="url(#g40)" stroke-width="1.5" stroke-linejoin="round" filter="url(#bl1_6)"/>
<path d="M327.2 1885.43 L332.52 1883.8 L337.83 1884.17 L343.15 1883.25 L348.47 1883.43 L353.78 1882.49 L359.1 1884.36 L359.1 1889.6 L353.78 1891.05 L348.47 1890.38 L343.15 1891.2 L337.83 1891.16 L332.52 1891.97 L327.2 1890.37 Z" fill="rgb(0,0,0)" stroke="rgb(0,0,0)" stroke-width="1.88" stroke-linejoin="round" filter="url(#bl1_6)"/>
<path d="M374.5 1883.84 L380.2 1883.3 L385.9 1882.6 L391.6 1881.79 L397.3 1881.02 L403 1881.52 L408.7 1882.02 L408.7 1886.37 L403 1886.78 L397.3 1887.81 L391.6 1888.17 L385.9 1888.17 L380.2 1888.5 L374.5 1888.43 Z" fill="url(#g41)" stroke="url(#g41)" stroke-width="1.5" stroke-linejoin="round" filter="url(#bl1_6)"/>
<path d="M423.3 1881.72 L428.75 1881.07 L434.2 1880.32 L439.65 1879.93 L445.1 1880.1 L450.55 1879.8 L456 1880.58 L456 1885.44 L450.55 1886.29 L445.1 1886.13 L439.65 1886.82 L434.2 1887.16 L428.75 1887.04 L423.3 1886.34 Z" fill="url(#g42)" stroke="url(#g42)" stroke-width="1.5" stroke-linejoin="round" filter="url(#bl1_6)"/>
<path d="M470.5 1879.52 L475.93 1879.17 L481.37 1879.09 L486.8 1879.02 L492.23 1878.96 L497.67 1879.08 L503.1 1879.82 L503.1 1884.02 L497.67 1884.55 L492.23 1884.37 L486.8 1884.58 L481.37 1885.12 L475.93 1885.09 L470.5 1884.37 Z" fill="url(#g43)" stroke="url(#g43)" stroke-width="1.5" stroke-linejoin="round" filter="url(#bl1_6)"/>
<path d="M517.7 1878.18 L522.75 1876.71 L527.8 1876.74 L532.85 1876.94 L537.9 1876.48 L542.95 1876.65 L548 1878.09 L548 1882.91 L542.95 1883.8 L537.9 1883.83 L532.85 1883.58 L527.8 1884.12 L522.75 1884.56 L517.7 1882.8 Z" fill="rgb(166,166,166)" stroke="rgb(166,166,166)" stroke-width="1.75" stroke-linejoin="round" filter="url(#bl1_6)"/>
<path d="M565.8 1880.96 L571.62 1880.28 L577.43 1879.45 L583.25 1879.86 L589.07 1879.64 L594.88 1879.93 L600.7 1880.73 L600.7 1885.02 L594.88 1885.29 L589.07 1885.27 L583.25 1885.47 L577.43 1886.27 L571.62 1885.56 L565.8 1884.79 Z" fill="url(#g44)" stroke="url(#g44)" stroke-width="1.5" stroke-linejoin="round" filter="url(#bl1_6)"/>
<path d="M613.8 1880.1 L619.75 1879.92 L625.7 1879.43 L631.65 1879.23 L637.6 1879.46 L643.55 1879.43 L649.5 1880.14 L649.5 1883.71 L643.55 1884.32 L637.6 1883.87 L631.65 1884.16 L625.7 1884.48 L619.75 1884.34 L613.8 1883.97 Z" fill="rgb(204,204,204)" stroke="rgb(204,204,204)" stroke-width="1.25" stroke-linejoin="round" filter="url(#bl1_6)"/>
<path d="M663.4 1878.77 L668.83 1878.09 L674.27 1877.57 L679.7 1877.85 L685.13 1878.1 L690.57 1877.48 L696 1878.95 L696 1883.42 L690.57 1884.6 L685.13 1883.65 L679.7 1884.22 L674.27 1884.79 L668.83 1884.58 L663.4 1883.6 Z" fill="url(#g45)" stroke="url(#g45)" stroke-width="1.62" stroke-linejoin="round" filter="url(#bl1_6)"/>
<path d="M709.9 1878.46 L715.47 1877.97 L721.03 1877.77 L726.6 1876.52 L732.17 1877.24 L737.73 1876.48 L743.3 1877.9 L743.3 1882.07 L737.73 1883.36 L732.17 1882.78 L726.6 1883.86 L721.03 1883.47 L715.47 1883.97 L709.9 1883.73 Z" fill="url(#g46)" stroke="url(#g46)" stroke-width="1.62" stroke-linejoin="round" filter="url(#bl1_6)"/>
<text x="184.4" y="1931.8" font-size="20.06" font-weight="normal" fill="#111" textLength="22.8" lengthAdjust="spacingAndGlyphs" stroke="#111" stroke-width="0.85">XSN4</text>
<text x="237.1" y="1931.8" font-size="20.06" font-weight="normal" fill="#111" textLength="22.8" lengthAdjust="spacingAndGlyphs" stroke="#111" stroke-width="0.85">XSN8</text>
<text x="283.44" y="1931.8" font-size="20.06" font-weight="normal" fill="#111" textLength="26.12" lengthAdjust="spacingAndGlyphs" stroke="#111" stroke-width="0.85">XTB4</text>
<text x="332.04" y="1931.8" font-size="20.06" font-weight="normal" fill="#111" textLength="26.12" lengthAdjust="spacingAndGlyphs" stroke="#111" stroke-width="0.85">XTB8</text>
<text x="380.01" y="1931.8" font-size="20.06" font-weight="normal" fill="#111" textLength="25.17" lengthAdjust="spacingAndGlyphs" stroke="#111" stroke-width="0.85">OSN4</text>
<text x="427.48" y="1931.8" font-size="20.06" font-weight="normal" fill="#111" textLength="25.65" lengthAdjust="spacingAndGlyphs" stroke="#111" stroke-width="0.85">OSN8</text>
<text x="474.29" y="1931.8" font-size="20.06" font-weight="normal" fill="#111" textLength="28.02" lengthAdjust="spacingAndGlyphs" stroke="#111" stroke-width="0.85">OTB4</text>
<text x="522.39" y="1931.8" font-size="20.06" font-weight="normal" fill="#111" textLength="28.03" lengthAdjust="spacingAndGlyphs" stroke="#111" stroke-width="0.85">OTB8</text>
<text x="569.65" y="1931.8" font-size="20.06" font-weight="normal" fill="#111" textLength="28.5" lengthAdjust="spacingAndGlyphs" stroke="#111" stroke-width="0.85">SCSN4</text>
<text x="618.15" y="1931.8" font-size="20.06" font-weight="normal" fill="#111" textLength="28.5" lengthAdjust="spacingAndGlyphs" stroke="#111" stroke-width="0.85">SCSN8</text>
<text x="664.59" y="1931.8" font-size="20.06" font-weight="normal" fill="#111" textLength="31.83" lengthAdjust="spacingAndGlyphs" stroke="#111" stroke-width="0.85">SCTB4</text>
<text x="712.83" y="1931.8" font-size="20.06" font-weight="normal" fill="#111" textLength="31.35" lengthAdjust="spacingAndGlyphs" stroke="#111" stroke-width="0.85">SCTB8</text>
<line x1="223.2" y1="1906.8" x2="223.2" y2="1940.9" stroke="#8c8c8c" stroke-width="1.9"/>
<line x1="272.8" y1="1906.8" x2="272.8" y2="1940.9" stroke="#8c8c8c" stroke-width="1.9"/>
<line x1="319.3" y1="1906.8" x2="319.3" y2="1940.9" stroke="#8c8c8c" stroke-width="1.9"/>
<line x1="368.9" y1="1906.8" x2="368.9" y2="1940.9" stroke="#8c8c8c" stroke-width="1.9"/>
<line x1="415.5" y1="1906.8" x2="415.5" y2="1940.9" stroke="#8c8c8c" stroke-width="1.9"/>
<line x1="464" y1="1906.8" x2="464" y2="1940.9" stroke="#8c8c8c" stroke-width="1.9"/>
<line x1="512.6" y1="1906.8" x2="512.6" y2="1940.9" stroke="#8c8c8c" stroke-width="1.9"/>
<line x1="560.1" y1="1906.8" x2="560.1" y2="1940.9" stroke="#8c8c8c" stroke-width="1.9"/>
<line x1="607.6" y1="1906.8" x2="607.6" y2="1940.9" stroke="#8c8c8c" stroke-width="1.9"/>
<line x1="655.2" y1="1906.8" x2="655.2" y2="1940.9" stroke="#8c8c8c" stroke-width="1.9"/>
<line x1="703.7" y1="1906.8" x2="703.7" y2="1940.9" stroke="#8c8c8c" stroke-width="1.9"/>
<line x1="167.4" y1="1906.8" x2="167.4" y2="1940.9" stroke="#8c8c8c" stroke-width="1.9"/>
<line x1="751.2" y1="1906.8" x2="751.2" y2="1940.9" stroke="#8c8c8c" stroke-width="1.9"/>
<line x1="166.4" y1="1906.8" x2="752.2" y2="1906.8" stroke="#8c8c8c" stroke-width="3.4"/>
<line x1="166.4" y1="1940.9" x2="752.2" y2="1940.9" stroke="#6a6a6a" stroke-width="3.4"/>
</g>
<text x="1064.3" y="1412.4" font-size="32.27" font-weight="bold" fill="#000" textLength="41.2" lengthAdjust="spacingAndGlyphs">B4</text>
<g id="B4" filter="url(#bl0_85)">
<line x1="1168.5" y1="1639.9" x2="1865.5" y2="1639.9" stroke="#dcdcdc" stroke-width="2.2"/>
<line x1="1168.5" y1="1532.8" x2="1865.5" y2="1532.8" stroke="#dcdcdc" stroke-width="2.2"/>
<line x1="1168.5" y1="1425.7" x2="1865.5" y2="1425.7" stroke="#dcdcdc" stroke-width="2.2"/>
<line x1="1164.5" y1="1693.45" x2="1167.5" y2="1693.45" stroke="#c8c8c8" stroke-width="1.2"/>
<line x1="1164.5" y1="1586.35" x2="1167.5" y2="1586.35" stroke="#c8c8c8" stroke-width="1.2"/>
<line x1="1164.5" y1="1479.25" x2="1167.5" y2="1479.25" stroke="#c8c8c8" stroke-width="1.2"/>
<line x1="1210.5" y1="1520.8" x2="1210.5" y2="1529.6" stroke="#626262" stroke-width="2.4"/>
<path d="M1207.1 1519.2 L1213.9 1519.2 L1211.8 1522.4 L1209.2 1522.4 Z" fill="#2e2e2e"/>
<line x1="1210.5" y1="1576.6" x2="1210.5" y2="1613.8" stroke="#626262" stroke-width="2.4"/>
<path d="M1207.1 1615.4 L1213.9 1615.4 L1211.8 1612.2 L1209.2 1612.2 Z" fill="#2e2e2e"/>
<rect x="1202.75" y="1529.6" width="15.5" height="47" fill="#e0532f" stroke="#6b2a18" stroke-width="1.5" rx="1.2"/>
<line x1="1203.45" y1="1537.4" x2="1217.55" y2="1537.4" stroke="#161010" stroke-width="3.9"/>
<line x1="1263.4" y1="1476.9" x2="1263.4" y2="1508.9" stroke="#626262" stroke-width="2.4"/>
<path d="M1260 1475.3 L1266.8 1475.3 L1264.7 1478.5 L1262.1 1478.5 Z" fill="#2e2e2e"/>
<line x1="1263.4" y1="1554.1" x2="1263.4" y2="1567.3" stroke="#626262" stroke-width="2.4"/>
<path d="M1260 1568.9 L1266.8 1568.9 L1264.7 1565.7 L1262.1 1565.7 Z" fill="#2e2e2e"/>
<rect x="1255.65" y="1508.9" width="15.5" height="45.2" fill="#e0532f" stroke="#6b2a18" stroke-width="1.5" rx="1.2"/>
<line x1="1256.35" y1="1539.7" x2="1270.45" y2="1539.7" stroke="#161010" stroke-width="3.9"/>
<line x1="1316.9" y1="1447.2" x2="1316.9" y2="1515.4" stroke="#626262" stroke-width="2.4"/>
<path d="M1313.5 1445.6 L1320.3 1445.6 L1318.2 1448.8 L1315.6 1448.8 Z" fill="#2e2e2e"/>
<line x1="1316.9" y1="1596" x2="1316.9" y2="1642.8" stroke="#626262" stroke-width="2.4"/>
<path d="M1313.5 1644.4 L1320.3 1644.4 L1318.2 1641.2 L1315.6 1641.2 Z" fill="#2e2e2e"/>
<rect x="1309.15" y="1515.4" width="15.5" height="80.6" fill="#e0532f" stroke="#6b2a18" stroke-width="1.5" rx="1.2"/>
<line x1="1309.85" y1="1558" x2="1323.95" y2="1558" stroke="#161010" stroke-width="3.9"/>
<line x1="1369.8" y1="1469.1" x2="1369.8" y2="1501.2" stroke="#626262" stroke-width="2.4"/>
<path d="M1366.4 1467.5 L1373.2 1467.5 L1371.1 1470.7 L1368.5 1470.7 Z" fill="#2e2e2e"/>
<line x1="1369.8" y1="1551.6" x2="1369.8" y2="1605.3" stroke="#626262" stroke-width="2.4"/>
<path d="M1366.4 1606.9 L1373.2 1606.9 L1371.1 1603.7 L1368.5 1603.7 Z" fill="#2e2e2e"/>
<rect x="1362.05" y="1501.2" width="15.5" height="50.4" fill="#e0532f" stroke="#6b2a18" stroke-width="1.5" rx="1.2"/>
<line x1="1362.75" y1="1541.7" x2="1376.85" y2="1541.7" stroke="#161010" stroke-width="3.9"/>
<line x1="1437.7" y1="1454.9" x2="1437.7" y2="1492.2" stroke="#626262" stroke-width="2.4"/>
<path d="M1434.3 1453.3 L1441.1 1453.3 L1439 1456.5 L1436.4 1456.5 Z" fill="#2e2e2e"/>
<line x1="1437.7" y1="1531.9" x2="1437.7" y2="1533" stroke="#626262" stroke-width="2.4"/>
<path d="M1434.3 1534.6 L1441.1 1534.6 L1439 1531.4 L1436.4 1531.4 Z" fill="#2e2e2e"/>
<rect x="1429.95" y="1492.2" width="15.5" height="39.7" fill="#5b7943" stroke="#2f3f22" stroke-width="1.5" rx="1.2"/>
<line x1="1430.65" y1="1528.8" x2="1444.75" y2="1528.8" stroke="#161010" stroke-width="3.9"/>
<line x1="1490.7" y1="1480.8" x2="1490.7" y2="1483.6" stroke="#626262" stroke-width="2.4"/>
<path d="M1487.3 1479.2 L1494.1 1479.2 L1492 1482.4 L1489.4 1482.4 Z" fill="#2e2e2e"/>
<line x1="1490.7" y1="1510.2" x2="1490.7" y2="1533" stroke="#626262" stroke-width="2.4"/>
<path d="M1487.3 1534.6 L1494.1 1534.6 L1492 1531.4 L1489.4 1531.4 Z" fill="#2e2e2e"/>
<rect x="1482.95" y="1483.6" width="15.5" height="26.6" fill="#5b7943" stroke="#2f3f22" stroke-width="1.5" rx="1.2"/>
<line x1="1483.65" y1="1486.2" x2="1497.75" y2="1486.2" stroke="#161010" stroke-width="3.9"/>
<line x1="1543.9" y1="1497" x2="1543.9" y2="1528.1" stroke="#626262" stroke-width="2.4"/>
<path d="M1540.5 1495.4 L1547.3 1495.4 L1545.2 1498.6 L1542.6 1498.6 Z" fill="#2e2e2e"/>
<line x1="1543.9" y1="1562.4" x2="1543.9" y2="1580.3" stroke="#626262" stroke-width="2.4"/>
<path d="M1540.5 1581.9 L1547.3 1581.9 L1545.2 1578.7 L1542.6 1578.7 Z" fill="#2e2e2e"/>
<rect x="1536.15" y="1528.1" width="15.5" height="34.3" fill="#5b7943" stroke="#2f3f22" stroke-width="1.5" rx="1.2"/>
<line x1="1536.85" y1="1536.6" x2="1550.95" y2="1536.6" stroke="#161010" stroke-width="3.9"/>
<line x1="1596.8" y1="1482.8" x2="1596.8" y2="1536.6" stroke="#626262" stroke-width="2.4"/>
<path d="M1593.4 1481.2 L1600.2 1481.2 L1598.1 1484.4 L1595.5 1484.4 Z" fill="#2e2e2e"/>
<line x1="1596.8" y1="1596.8" x2="1596.8" y2="1618.2" stroke="#626262" stroke-width="2.4"/>
<path d="M1593.4 1619.8 L1600.2 1619.8 L1598.1 1616.6 L1595.5 1616.6 Z" fill="#2e2e2e"/>
<rect x="1589.05" y="1536.6" width="15.5" height="60.2" fill="#5b7943" stroke="#2f3f22" stroke-width="1.5" rx="1.2"/>
<line x1="1589.75" y1="1585.7" x2="1603.85" y2="1585.7" stroke="#161010" stroke-width="3.9"/>
<line x1="1665.3" y1="1492.9" x2="1665.3" y2="1498.6" stroke="#626262" stroke-width="2.4"/>
<path d="M1661.9 1491.3 L1668.7 1491.3 L1666.6 1494.5 L1664 1494.5 Z" fill="#2e2e2e"/>
<line x1="1665.3" y1="1512" x2="1665.3" y2="1519.6" stroke="#626262" stroke-width="2.4"/>
<path d="M1661.9 1521.2 L1668.7 1521.2 L1666.6 1518 L1664 1518 Z" fill="#2e2e2e"/>
<rect x="1657.55" y="1498.6" width="15.5" height="13.4" fill="#4f98e6" stroke="#2a4f80" stroke-width="1.5" rx="1.2"/>
<line x1="1658.25" y1="1504.8" x2="1672.35" y2="1504.8" stroke="#161010" stroke-width="3.9"/>
<line x1="1718.2" y1="1504.8" x2="1718.2" y2="1512.8" stroke="#626262" stroke-width="2.4"/>
<path d="M1714.8 1503.2 L1721.6 1503.2 L1719.5 1506.4 L1716.9 1506.4 Z" fill="#2e2e2e"/>
<line x1="1718.2" y1="1552.6" x2="1718.2" y2="1582.8" stroke="#626262" stroke-width="2.4"/>
<path d="M1714.8 1584.4 L1721.6 1584.4 L1719.5 1581.2 L1716.9 1581.2 Z" fill="#2e2e2e"/>
<rect x="1710.45" y="1512.8" width="15.5" height="39.8" fill="#4f98e6" stroke="#2a4f80" stroke-width="1.5" rx="1.2"/>
<line x1="1711.15" y1="1520.6" x2="1725.25" y2="1520.6" stroke="#161010" stroke-width="3.9"/>
<line x1="1771.2" y1="1504.8" x2="1771.2" y2="1534" stroke="#626262" stroke-width="2.4"/>
<path d="M1767.8 1503.2 L1774.6 1503.2 L1772.5 1506.4 L1769.9 1506.4 Z" fill="#2e2e2e"/>
<rect x="1763.45" y="1534" width="15.5" height="39.3" fill="#4f98e6" stroke="#2a4f80" stroke-width="1.5" rx="1.2"/>
<line x1="1764.15" y1="1558.5" x2="1778.25" y2="1558.5" stroke="#161010" stroke-width="3.9"/>
<ellipse cx="1771.2" cy="1643.8" rx="4" ry="3.2" fill="#2f6fc0"/>
<line x1="1824.6" y1="1502.2" x2="1824.6" y2="1529.4" stroke="#626262" stroke-width="2.4"/>
<path d="M1821.2 1500.6 L1828 1500.6 L1825.9 1503.8 L1823.3 1503.8 Z" fill="#2e2e2e"/>
<line x1="1824.6" y1="1569.6" x2="1824.6" y2="1582.8" stroke="#626262" stroke-width="2.4"/>
<path d="M1821.2 1584.4 L1828 1584.4 L1825.9 1581.2 L1823.3 1581.2 Z" fill="#2e2e2e"/>
<rect x="1816.85" y="1529.4" width="15.5" height="40.2" fill="#4f98e6" stroke="#2a4f80" stroke-width="1.5" rx="1.2"/>
<line x1="1817.55" y1="1531.4" x2="1831.65" y2="1531.4" stroke="#161010" stroke-width="3.9"/>
<line x1="1167.5" y1="1392" x2="1167.5" y2="1748" stroke="#a8a8a8" stroke-width="2.2"/>
<line x1="1166.5" y1="1747" x2="1865.5" y2="1747" stroke="#a8a8a8" stroke-width="2.4"/>
<text x="1132.58" y="1754.22" font-size="14" font-weight="bold" fill="#000" textLength="28.22" lengthAdjust="spacingAndGlyphs" stroke="#000" stroke-width="0.25">.00</text>
<text x="1132.58" y="1647.12" font-size="14" font-weight="bold" fill="#000" textLength="28.22" lengthAdjust="spacingAndGlyphs" stroke="#000" stroke-width="0.25">.50</text>
<text x="1121.3" y="1540.02" font-size="14" font-weight="bold" fill="#000" textLength="39.5" lengthAdjust="spacingAndGlyphs" stroke="#000" stroke-width="0.25">1.00</text>
<text x="1121.3" y="1432.92" font-size="14" font-weight="bold" fill="#000" textLength="39.5" lengthAdjust="spacingAndGlyphs" stroke="#000" stroke-width="0.25">1.50</text>
<text transform="translate(1099.5 1592.5) rotate(-90) scale(1 1)" x="0" y="0" font-size="25" font-weight="bold" fill="#000" textLength="44.7" lengthAdjust="spacingAndGlyphs">HSF1</text>
<text transform="translate(1215.65 1753) rotate(90) scale(1 1.65)" x="0" y="0" font-size="12.8" font-weight="bold" fill="#000" stroke="#000" stroke-width="0.45" textLength="34.56" lengthAdjust="spacingAndGlyphs">XSN4</text>
<text transform="translate(1268.05 1753) rotate(90) scale(1 1.65)" x="0" y="0" font-size="12.8" font-weight="bold" fill="#000" stroke="#000" stroke-width="0.45" textLength="34.56" lengthAdjust="spacingAndGlyphs">XSN8</text>
<text transform="translate(1321.55 1753) rotate(90) scale(1 1.65)" x="0" y="0" font-size="12.8" font-weight="bold" fill="#000" stroke="#000" stroke-width="0.45" textLength="40.5" lengthAdjust="spacingAndGlyphs">XTB4</text>
<text transform="translate(1374.75 1753) rotate(90) scale(1 1.65)" x="0" y="0" font-size="12.8" font-weight="bold" fill="#000" stroke="#000" stroke-width="0.45" textLength="40.5" lengthAdjust="spacingAndGlyphs">XTB8</text>
<text transform="translate(1427.15 1753) rotate(90) scale(1 1.65)" x="0" y="0" font-size="12.8" font-weight="bold" fill="#000" stroke="#000" stroke-width="0.45" textLength="34.56" lengthAdjust="spacingAndGlyphs">OSN4</text>
<text transform="translate(1481.55 1753) rotate(90) scale(1 1.65)" x="0" y="0" font-size="12.8" font-weight="bold" fill="#000" stroke="#000" stroke-width="0.45" textLength="34.56" lengthAdjust="spacingAndGlyphs">OSN8</text>
<text transform="translate(1533.95 1753) rotate(90) scale(1 1.65)" x="0" y="0" font-size="12.8" font-weight="bold" fill="#000" stroke="#000" stroke-width="0.45" textLength="40.5" lengthAdjust="spacingAndGlyphs">OTB4</text>
<text transform="translate(1587.55 1753) rotate(90) scale(1 1.65)" x="0" y="0" font-size="12.8" font-weight="bold" fill="#000" stroke="#000" stroke-width="0.45" textLength="40.5" lengthAdjust="spacingAndGlyphs">OTB8</text>
<text transform="translate(1640.75 1753) rotate(90) scale(1 1.65)" x="0" y="0" font-size="12.8" font-weight="bold" fill="#000" stroke="#000" stroke-width="0.45" textLength="46.66" lengthAdjust="spacingAndGlyphs">SCSN4</text>
<text transform="translate(1693.05 1753) rotate(90) scale(1 1.65)" x="0" y="0" font-size="12.8" font-weight="bold" fill="#000" stroke="#000" stroke-width="0.45" textLength="46.66" lengthAdjust="spacingAndGlyphs">SCSN8</text>
<text transform="translate(1747.45 1753) rotate(90) scale(1 1.65)" x="0" y="0" font-size="12.8" font-weight="bold" fill="#000" stroke="#000" stroke-width="0.45" textLength="50.76" lengthAdjust="spacingAndGlyphs">SCTB4</text>
<text transform="translate(1799.85 1753) rotate(90) scale(1 1.65)" x="0" y="0" font-size="12.8" font-weight="bold" fill="#000" stroke="#000" stroke-width="0.45" textLength="50.76" lengthAdjust="spacingAndGlyphs">SCTB8</text>
<text x="1212.8" y="1832.5" font-size="16.72" font-weight="bold" fill="#000" textLength="610.4" lengthAdjust="spacingAndGlyphs" stroke="#000" stroke-width="0.35">Pretreatment, experimental stress and time post CHI</text>
<text x="1874.5" y="1410.7" font-size="15.12" font-weight="bold" fill="#000" textLength="130.5" lengthAdjust="spacingAndGlyphs">Pre-treatment</text>
<rect x="1906.8" y="1422.2" width="18.8" height="11.9" fill="#e0532f" stroke="#3a3a3a" stroke-width="1.1"/>
<text x="1930" y="1433.8" font-size="14.62" font-weight="bold" fill="#000" textLength="40" lengthAdjust="spacingAndGlyphs">ATX</text>
<rect x="1906.8" y="1441" width="18.8" height="11.7" fill="#5b7943" stroke="#3a3a3a" stroke-width="1.1"/>
<text x="1930" y="1452.4" font-size="14.4" font-weight="bold" fill="#000" textLength="31.5" lengthAdjust="spacingAndGlyphs">OIL</text>
<rect x="1906.8" y="1459.1" width="18.8" height="12.4" fill="#4f98e6" stroke="#3a3a3a" stroke-width="1.1"/>
<text x="1930" y="1471.2" font-size="15.19" font-weight="bold" fill="#000" textLength="28.5" lengthAdjust="spacingAndGlyphs">SC</text>
<rect x="1205" y="1848" width="633" height="77" fill="#fafafa" filter="url(#bl3)"/>
<text x="1112.5" y="1879.5" font-size="23.26" font-weight="normal" fill="#2a2a2a" textLength="56.5" lengthAdjust="spacingAndGlyphs" stroke="#2a2a2a" stroke-width="0.9">Actin</text>
<text x="1113.5" y="1917.5" font-size="24.71" font-weight="normal" fill="#2a2a2a" textLength="54.5" lengthAdjust="spacingAndGlyphs" stroke="#2a2a2a" stroke-width="0.9">HSF1</text>
<path d="M1214.8 1869.21 L1220.77 1868.27 L1226.73 1868.21 L1232.7 1867.54 L1238.67 1867.4 L1244.63 1868.22 L1250.6 1868.8 L1250.6 1874.59 L1244.63 1874.43 L1238.67 1875.1 L1232.7 1875.06 L1226.73 1874.92 L1220.77 1875.21 L1214.8 1873.94 Z" fill="rgb(0,0,0)" stroke="rgb(0,0,0)" stroke-width="1.7" stroke-linejoin="round" filter="url(#bl1_4)"/>
<path d="M1265.2 1870.22 L1271.72 1869.3 L1278.23 1869.71 L1284.75 1869.82 L1291.27 1869.45 L1297.78 1869.39 L1304.3 1871.53 L1304.3 1875.98 L1297.78 1877.1 L1291.27 1876.6 L1284.75 1875.98 L1278.23 1876.29 L1271.72 1876.71 L1265.2 1875.21 Z" fill="rgb(0,0,0)" stroke="rgb(0,0,0)" stroke-width="1.7" stroke-linejoin="round" filter="url(#bl1_4)"/>
<path d="M1320.5 1869.94 L1326.75 1869.61 L1333 1870.15 L1339.25 1870.32 L1345.5 1871.36 L1351.75 1871.74 L1358 1873.42 L1358 1878.81 L1351.75 1878.79 L1345.5 1877.49 L1339.25 1877.49 L1333 1876.76 L1326.75 1876.22 L1320.5 1874.43 Z" fill="rgb(38,38,38)" stroke="rgb(38,38,38)" stroke-width="1.7" stroke-linejoin="round" filter="url(#bl1_4)"/>
<path d="M1375.1 1873.63 L1380.93 1871.77 L1386.77 1871.04 L1392.6 1869.99 L1398.43 1869.35 L1404.27 1868.79 L1410.1 1869.4 L1410.1 1874.8 L1404.27 1876.39 L1398.43 1876.85 L1392.6 1877.78 L1386.77 1878.32 L1380.93 1879.38 L1375.1 1878.49 Z" fill="rgb(13,13,13)" stroke="rgb(13,13,13)" stroke-width="1.7" stroke-linejoin="round" filter="url(#bl1_4)"/>
<path d="M1428 1869.74 L1434.12 1868.93 L1440.23 1868.08 L1446.35 1867.61 L1452.47 1866.39 L1458.58 1866.13 L1464.7 1866.63 L1464.7 1871.86 L1458.58 1873 L1452.47 1873.54 L1446.35 1873.6 L1440.23 1874.54 L1434.12 1874.9 L1428 1874.7 Z" fill="rgb(25,25,25)" stroke="rgb(25,25,25)" stroke-width="1.7" stroke-linejoin="round" filter="url(#bl1_4)"/>
<path d="M1481.7 1866.6 L1487.67 1865.84 L1493.63 1865.7 L1499.6 1865.85 L1505.57 1865.09 L1511.53 1865.39 L1517.5 1866.4 L1517.5 1870.76 L1511.53 1871.58 L1505.57 1872.08 L1499.6 1871.84 L1493.63 1872.73 L1487.67 1873.32 L1481.7 1872.42 Z" fill="rgb(13,13,13)" stroke="rgb(13,13,13)" stroke-width="1.7" stroke-linejoin="round" filter="url(#bl1_4)"/>
<path d="M1532.2 1867.62 L1538.17 1866.72 L1544.13 1866.61 L1550.1 1865.17 L1556.07 1865.41 L1562.03 1864.8 L1568 1865.81 L1568 1870.39 L1562.03 1871.83 L1556.07 1871.43 L1550.1 1872.76 L1544.13 1872.46 L1538.17 1873.11 L1532.2 1872.59 Z" fill="rgb(25,25,25)" stroke="rgb(25,25,25)" stroke-width="1.7" stroke-linejoin="round" filter="url(#bl1_4)"/>
<path d="M1583.5 1865.31 L1589.18 1864.2 L1594.87 1863.9 L1600.55 1863.84 L1606.23 1863.7 L1611.92 1863.52 L1617.6 1865.04 L1617.6 1870.16 L1611.92 1871.16 L1606.23 1870.65 L1600.55 1870.65 L1594.87 1871.21 L1589.18 1871.08 L1583.5 1869.8 Z" fill="rgb(25,25,25)" stroke="rgb(25,25,25)" stroke-width="1.7" stroke-linejoin="round" filter="url(#bl1_4)"/>
<path d="M1633.9 1866.17 L1640.42 1865.6 L1646.93 1865.28 L1653.45 1865.47 L1659.97 1864.83 L1666.48 1864.68 L1673 1866.3 L1673 1871.04 L1666.48 1872.1 L1659.97 1871.69 L1653.45 1871.4 L1646.93 1871.95 L1640.42 1871.86 L1633.9 1871.18 Z" fill="rgb(0,0,0)" stroke="rgb(0,0,0)" stroke-width="1.7" stroke-linejoin="round" filter="url(#bl1_4)"/>
<path d="M1686.7 1866.6 L1693.23 1865.41 L1699.77 1865.77 L1706.3 1865.09 L1712.83 1865.78 L1719.37 1865.73 L1725.9 1866.42 L1725.9 1871.65 L1719.37 1871.96 L1712.83 1871.75 L1706.3 1872.5 L1699.77 1872.43 L1693.23 1873.05 L1686.7 1871.77 Z" fill="url(#g47)" stroke="url(#g47)" stroke-width="1.7" stroke-linejoin="round" filter="url(#bl1_4)"/>
<path d="M1738.8 1865.84 L1745.18 1865.53 L1751.57 1864.81 L1757.95 1865 L1764.33 1864.86 L1770.72 1864.09 L1777.1 1865.61 L1777.1 1870.1 L1770.72 1871.57 L1764.33 1870.74 L1757.95 1871.18 L1751.57 1871.96 L1745.18 1871.98 L1738.8 1871.64 Z" fill="url(#g48)" stroke="url(#g48)" stroke-width="1.7" stroke-linejoin="round" filter="url(#bl1_4)"/>
<path d="M1790.9 1866.54 L1797.15 1865.52 L1803.4 1864.64 L1809.65 1864.45 L1815.9 1863.09 L1822.15 1862.66 L1828.4 1863.73 L1828.4 1868.4 L1822.15 1870.01 L1815.9 1870.25 L1809.65 1870.25 L1803.4 1871.24 L1797.15 1871.78 L1790.9 1871.37 Z" fill="url(#g49)" stroke="url(#g49)" stroke-width="1.7" stroke-linejoin="round" filter="url(#bl1_4)"/>
<path d="M1214.8 1906.05 L1220.77 1905.56 L1226.73 1904.96 L1232.7 1904.75 L1238.67 1904.51 L1244.63 1904.8 L1250.6 1905.72 L1250.6 1910.44 L1244.63 1910.66 L1238.67 1910.79 L1232.7 1910.71 L1226.73 1910.86 L1220.77 1910.68 L1214.8 1910.01 Z" fill="url(#g50)" stroke="url(#g50)" stroke-width="1.5" stroke-linejoin="round" filter="url(#bl1_5)"/>
<path d="M1265.2 1907.25 L1271.72 1906.52 L1278.23 1906.59 L1284.75 1906.93 L1291.27 1906.5 L1297.78 1905.95 L1304.3 1907.3 L1304.3 1911.77 L1297.78 1912.63 L1291.27 1912.01 L1284.75 1912.04 L1278.23 1912.76 L1271.72 1912.95 L1265.2 1911.85 Z" fill="url(#g51)" stroke="url(#g51)" stroke-width="1.5" stroke-linejoin="round" filter="url(#bl1_5)"/>
<path d="M1320.5 1909.48 L1326.75 1908.59 L1333 1908.81 L1339.25 1908.91 L1345.5 1909.14 L1351.75 1908.79 L1358 1910.09 L1358 1915.15 L1351.75 1915.59 L1345.5 1914.74 L1339.25 1914.88 L1333 1914.99 L1326.75 1915.23 L1320.5 1913.72 Z" fill="url(#g52)" stroke="url(#g52)" stroke-width="1.5" stroke-linejoin="round" filter="url(#bl1_5)"/>
<path d="M1375.1 1911.06 L1380.93 1910.09 L1386.77 1909.92 L1392.6 1908.81 L1398.43 1908.29 L1404.27 1908.25 L1410.1 1908.94 L1410.1 1913.1 L1404.27 1914.06 L1398.43 1914.55 L1392.6 1914.93 L1386.77 1915.12 L1380.93 1915.73 L1375.1 1915 Z" fill="url(#g53)" stroke="url(#g53)" stroke-width="1.5" stroke-linejoin="round" filter="url(#bl1_5)"/>
<path d="M1428 1908.89 L1434.12 1908.11 L1440.23 1907.47 L1446.35 1906.82 L1452.47 1906.44 L1458.58 1906.85 L1464.7 1906.99 L1464.7 1911.79 L1458.58 1912.12 L1452.47 1913 L1446.35 1913.56 L1440.23 1914.07 L1434.12 1914.32 L1428 1913.8 Z" fill="url(#g54)" stroke="url(#g54)" stroke-width="1.5" stroke-linejoin="round" filter="url(#bl1_5)"/>
<path d="M1481.7 1906.28 L1487.67 1905.55 L1493.63 1905.52 L1499.6 1904.66 L1505.57 1904.64 L1511.53 1904.03 L1517.5 1904.98 L1517.5 1909.94 L1511.53 1910.69 L1505.57 1910.33 L1499.6 1910.79 L1493.63 1910.88 L1487.67 1911.41 L1481.7 1910.7 Z" fill="url(#g55)" stroke="url(#g55)" stroke-width="1.5" stroke-linejoin="round" filter="url(#bl1_5)"/>
<path d="M1532.2 1904.44 L1538.17 1903.66 L1544.13 1903.57 L1550.1 1902.85 L1556.07 1902.54 L1562.03 1902.74 L1568 1904.1 L1568 1908.36 L1562.03 1909.4 L1556.07 1909.37 L1550.1 1909.55 L1544.13 1909.17 L1538.17 1909.24 L1532.2 1908.3 Z" fill="url(#g56)" stroke="url(#g56)" stroke-width="1.5" stroke-linejoin="round" filter="url(#bl1_5)"/>
<path d="M1583.5 1904.35 L1589.18 1903.12 L1594.87 1903.15 L1600.55 1903.26 L1606.23 1902.9 L1611.92 1903.02 L1617.6 1903.86 L1617.6 1908.86 L1611.92 1909.01 L1606.23 1909.05 L1600.55 1908.92 L1594.87 1909.4 L1589.18 1909.78 L1583.5 1908.2 Z" fill="rgb(217,217,217)" stroke="rgb(217,217,217)" stroke-width="1.5" stroke-linejoin="round" filter="url(#bl1_5)"/>
<path d="M1633.9 1906.25 L1640.42 1905.03 L1646.93 1905.32 L1653.45 1905.2 L1659.97 1904.71 L1666.48 1905.23 L1673 1906.1 L1673 1910.42 L1666.48 1911.09 L1659.97 1911.21 L1653.45 1910.86 L1646.93 1911.15 L1640.42 1911.87 L1633.9 1910.41 Z" fill="rgb(0,0,0)" stroke="rgb(0,0,0)" stroke-width="1.5" stroke-linejoin="round" filter="url(#bl1_5)"/>
<path d="M1686.7 1906.45 L1693.23 1905.84 L1699.77 1906.21 L1706.3 1905.87 L1712.83 1905.38 L1719.37 1905.21 L1725.9 1906.9 L1725.9 1910.91 L1719.37 1911.84 L1712.83 1911.53 L1706.3 1911.32 L1699.77 1911.56 L1693.23 1912.05 L1686.7 1911.31 Z" fill="url(#g57)" stroke="url(#g57)" stroke-width="1.5" stroke-linejoin="round" filter="url(#bl1_5)"/>
<path d="M1738.8 1906.03 L1745.18 1905.53 L1751.57 1905.39 L1757.95 1905.34 L1764.33 1904.65 L1770.72 1905.04 L1777.1 1905.91 L1777.1 1910.88 L1770.72 1910.95 L1764.33 1911.3 L1757.95 1910.67 L1751.57 1911.2 L1745.18 1911.37 L1738.8 1910.57 Z" fill="url(#g58)" stroke="url(#g58)" stroke-width="1.5" stroke-linejoin="round" filter="url(#bl1_5)"/>
<path d="M1790.9 1906.48 L1797.15 1905.93 L1803.4 1905.32 L1809.65 1905.05 L1815.9 1904.23 L1822.15 1904.68 L1828.4 1905.42 L1828.4 1909.7 L1822.15 1910.41 L1815.9 1910.74 L1809.65 1910.36 L1803.4 1911.04 L1797.15 1911.03 L1790.9 1910.46 Z" fill="url(#g59)" stroke="url(#g59)" stroke-width="1.5" stroke-linejoin="round" filter="url(#bl1_5)"/>
<text x="1218.64" y="1961" font-size="21.8" font-weight="normal" fill="#111" textLength="24.72" lengthAdjust="spacingAndGlyphs" stroke="#111" stroke-width="0.85">XSN4</text>
<text x="1276.54" y="1961" font-size="21.8" font-weight="normal" fill="#111" textLength="24.72" lengthAdjust="spacingAndGlyphs" stroke="#111" stroke-width="0.85">XSN8</text>
<text x="1326.34" y="1961" font-size="21.8" font-weight="normal" fill="#111" textLength="28.32" lengthAdjust="spacingAndGlyphs" stroke="#111" stroke-width="0.85">XTB4</text>
<text x="1379.04" y="1961" font-size="21.8" font-weight="normal" fill="#111" textLength="28.32" lengthAdjust="spacingAndGlyphs" stroke="#111" stroke-width="0.85">XTB8</text>
<text x="1431.75" y="1961" font-size="21.8" font-weight="normal" fill="#111" textLength="27.3" lengthAdjust="spacingAndGlyphs" stroke="#111" stroke-width="0.85">OSN4</text>
<text x="1483.69" y="1961" font-size="21.8" font-weight="normal" fill="#111" textLength="27.81" lengthAdjust="spacingAndGlyphs" stroke="#111" stroke-width="0.85">OSN8</text>
<text x="1534.51" y="1961" font-size="21.8" font-weight="normal" fill="#111" textLength="30.39" lengthAdjust="spacingAndGlyphs" stroke="#111" stroke-width="0.85">OTB4</text>
<text x="1587.21" y="1961" font-size="21.8" font-weight="normal" fill="#111" textLength="30.39" lengthAdjust="spacingAndGlyphs" stroke="#111" stroke-width="0.85">OTB8</text>
<text x="1638.55" y="1961" font-size="21.8" font-weight="normal" fill="#111" textLength="30.9" lengthAdjust="spacingAndGlyphs" stroke="#111" stroke-width="0.85">SCSN4</text>
<text x="1690.75" y="1961" font-size="21.8" font-weight="normal" fill="#111" textLength="30.9" lengthAdjust="spacingAndGlyphs" stroke="#111" stroke-width="0.85">SCSN8</text>
<text x="1741.15" y="1961" font-size="21.8" font-weight="normal" fill="#111" textLength="34.51" lengthAdjust="spacingAndGlyphs" stroke="#111" stroke-width="0.85">SCTB4</text>
<text x="1794.01" y="1961" font-size="21.8" font-weight="normal" fill="#111" textLength="33.99" lengthAdjust="spacingAndGlyphs" stroke="#111" stroke-width="0.85">SCTB8</text>
<line x1="1261.5" y1="1934" x2="1261.5" y2="1969.1" stroke="#8c8c8c" stroke-width="1.9"/>
<line x1="1313.1" y1="1934" x2="1313.1" y2="1969.1" stroke="#8c8c8c" stroke-width="1.9"/>
<line x1="1365.8" y1="1934" x2="1365.8" y2="1969.1" stroke="#8c8c8c" stroke-width="1.9"/>
<line x1="1418.5" y1="1934" x2="1418.5" y2="1969.1" stroke="#8c8c8c" stroke-width="1.9"/>
<line x1="1470.6" y1="1934" x2="1470.6" y2="1969.1" stroke="#8c8c8c" stroke-width="1.9"/>
<line x1="1523.3" y1="1934" x2="1523.3" y2="1969.1" stroke="#8c8c8c" stroke-width="1.9"/>
<line x1="1575" y1="1934" x2="1575" y2="1969.1" stroke="#8c8c8c" stroke-width="1.9"/>
<line x1="1627.7" y1="1934" x2="1627.7" y2="1969.1" stroke="#8c8c8c" stroke-width="1.9"/>
<line x1="1679.3" y1="1934" x2="1679.3" y2="1969.1" stroke="#8c8c8c" stroke-width="1.9"/>
<line x1="1732" y1="1934" x2="1732" y2="1969.1" stroke="#8c8c8c" stroke-width="1.9"/>
<line x1="1784.7" y1="1934" x2="1784.7" y2="1969.1" stroke="#8c8c8c" stroke-width="1.9"/>
<line x1="1200.5" y1="1934" x2="1200.5" y2="1969.1" stroke="#8c8c8c" stroke-width="1.9"/>
<line x1="1836.4" y1="1934" x2="1836.4" y2="1969.1" stroke="#8c8c8c" stroke-width="1.9"/>
<line x1="1199.5" y1="1934" x2="1837.4" y2="1934" stroke="#8c8c8c" stroke-width="3.4"/>
<line x1="1199.5" y1="1969.1" x2="1837.4" y2="1969.1" stroke="#6a6a6a" stroke-width="3.4"/>
</g></svg>
</body></html>
